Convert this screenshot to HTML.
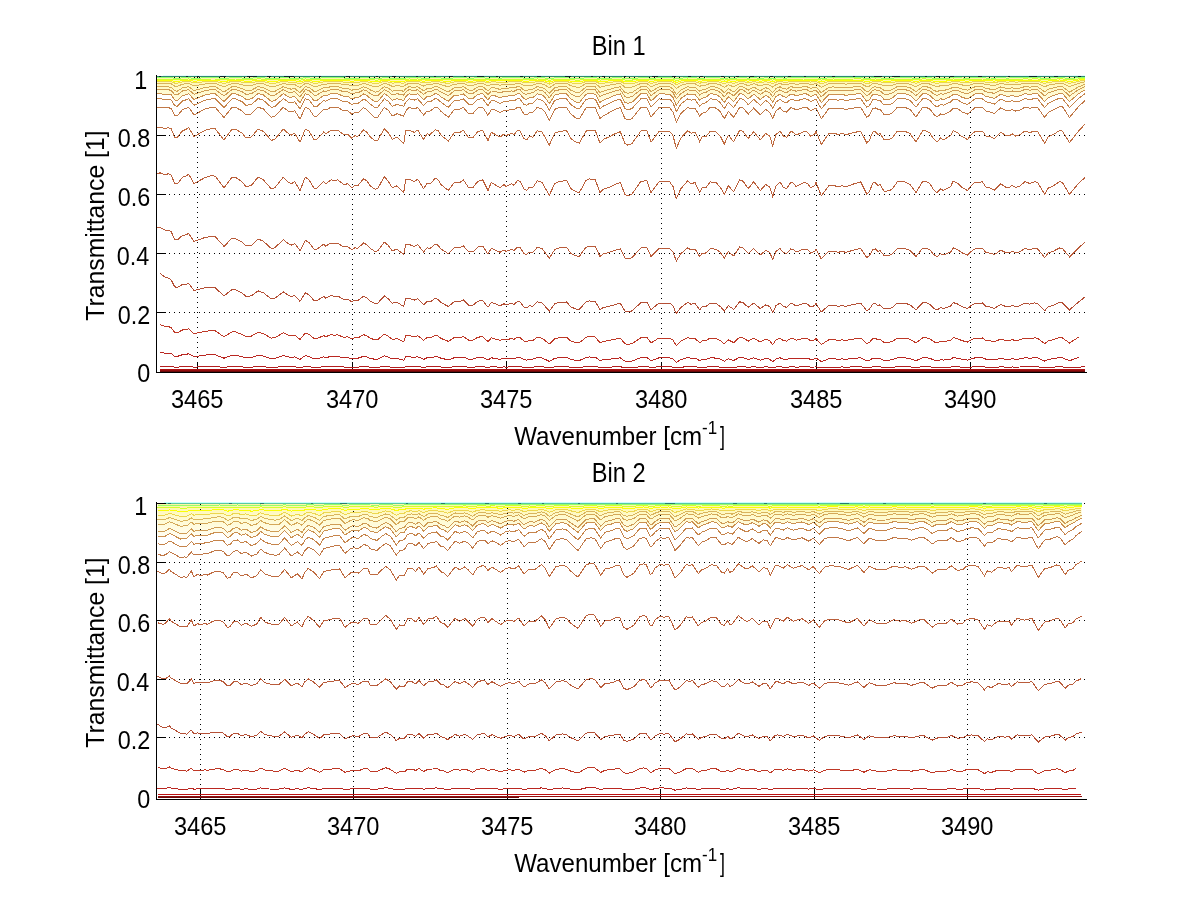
<!DOCTYPE html><html><head><meta charset="utf-8"><title>Bin 1 / Bin 2 Transmittance</title>
<style>html,body{margin:0;padding:0;background:#fff;width:1200px;height:901px;overflow:hidden}svg{display:block}</style></head><body>
<svg width="1200" height="901" viewBox="0 0 1200 901" font-family="'Liberation Sans', Arial, Helvetica, sans-serif" font-size="24" fill="#000">
<rect width="1200" height="901" fill="#fff"/>
<defs><linearGradient id="hg76" gradientUnits="userSpaceOnUse" x1="0" y1="76.6" x2="0" y2="108.6"><stop offset="0" stop-color="#fff5a0"/><stop offset="0.35" stop-color="#fffac8"/><stop offset="1" stop-color="#fffdf0"/></linearGradient></defs><polygon fill="url(#hg76)" stroke="none" points="157.3,76.6 160.0,76.6 164.7,76.6 168.7,76.6 171.3,76.6 174.7,76.6 177.3,76.6 182.7,76.6 185.3,76.6 188.7,76.6 194.0,76.6 197.3,76.6 204.7,76.6 212.0,76.6 215.3,76.6 224.0,76.6 232.0,76.6 235.3,76.6 242.0,76.6 246.0,76.6 251.3,76.6 258.0,76.6 263.3,76.6 271.3,76.6 274.7,76.6 283.3,76.6 288.7,76.6 291.3,76.6 294.7,76.6 300.0,76.6 305.3,76.6 309.0,76.6 314.3,76.6 317.0,76.6 323.7,76.6 325.7,76.6 331.0,76.6 334.3,76.6 337.7,76.6 343.7,76.6 347.7,76.6 351.7,76.6 355.0,76.6 357.7,76.6 363.7,76.6 367.0,76.6 370.3,76.6 375.0,76.6 377.7,76.6 384.3,76.6 388.3,76.6 392.3,76.6 397.0,76.6 403.7,76.6 405.7,76.6 409.0,76.6 414.3,76.6 417.7,76.6 423.7,76.6 427.0,76.6 430.3,76.6 435.0,76.6 437.7,76.6 441.0,76.6 448.3,76.6 454.3,76.6 459.7,76.6 463.3,76.6 468.7,76.6 472.7,76.6 478.0,76.6 482.7,76.6 488.0,76.6 491.3,76.6 494.7,76.6 500.0,76.6 504.0,76.6 506.0,76.6 511.3,76.6 514.0,76.6 517.3,76.6 520.0,76.6 524.0,76.6 526.7,76.6 529.3,76.6 532.7,76.6 537.3,76.6 542.0,76.6 544.7,76.6 549.3,76.6 554.7,76.6 560.0,76.6 566.7,76.6 570.7,76.6 576.0,76.6 579.3,76.6 586.0,76.6 589.3,76.6 595.3,76.6 600.0,76.6 603.3,76.6 609.3,76.6 615.0,76.6 620.3,76.6 625.0,76.6 627.7,76.6 631.7,76.6 641.0,76.6 647.0,76.6 651.0,76.6 659.0,76.6 669.7,76.6 673.0,76.6 676.3,76.6 681.0,76.6 687.7,76.6 691.0,76.6 695.0,76.6 699.7,76.6 702.3,76.6 705.7,76.6 710.3,76.6 716.3,76.6 720.3,76.6 724.3,76.6 728.3,76.6 733.7,76.6 739.7,76.6 743.0,76.6 748.3,76.6 753.7,76.6 760.3,76.6 765.7,76.6 769.7,76.6 772.7,76.6 776.0,76.6 780.0,76.6 783.3,76.6 786.7,76.6 790.7,76.6 793.3,76.6 796.0,76.6 804.0,76.6 807.3,76.6 810.7,76.6 814.7,76.6 816.0,76.6 821.3,76.6 828.7,76.6 833.3,76.6 838.0,76.6 842.0,76.6 846.0,76.6 854.0,76.6 860.7,76.6 866.7,76.6 869.3,76.6 872.7,76.6 875.3,76.6 878.0,76.6 880.0,76.6 884.0,76.6 889.3,76.6 892.7,76.6 897.3,76.6 904.7,76.6 910.0,76.6 916.0,76.6 922.7,76.6 926.0,76.6 930.0,76.6 933.5,76.6 937.0,76.6 940.6,76.6 943.4,76.6 947.7,76.6 950.5,76.6 953.3,76.6 957.6,76.6 961.8,76.6 967.5,76.6 970.3,76.6 975.3,76.6 978.1,76.6 982.4,76.6 985.9,76.6 990.2,76.6 994.4,76.6 1000.8,76.6 1006.4,76.6 1009.3,76.6 1012.1,76.6 1015.7,76.6 1019.9,76.6 1024.9,76.6 1029.8,76.6 1034.8,76.6 1037.6,76.6 1044.7,76.6 1048.2,76.6 1053.2,76.6 1059.6,76.6 1062.4,76.6 1069.5,76.6 1078.7,76.6 1085.0,76.6 1085.0,89.8 1078.7,93.6 1069.5,101.6 1062.4,93.4 1059.6,93.3 1053.2,95.7 1048.2,97.6 1044.7,101.6 1037.6,93.8 1034.8,93.6 1029.8,94.4 1024.9,93.6 1019.9,95.8 1015.7,96.6 1012.1,95.3 1009.3,96.2 1006.4,96.3 1000.8,94.1 994.4,98.4 990.2,97.3 985.9,96.4 982.4,93.9 978.1,93.9 975.3,93.8 970.3,97.0 967.5,98.9 961.8,97.2 957.6,94.7 953.3,94.2 950.5,96.6 947.7,97.8 943.4,99.5 940.6,98.8 937.0,101.1 933.5,98.8 930.0,95.3 926.0,93.7 922.7,93.6 916.0,101.1 910.0,95.2 904.7,93.7 897.3,93.7 892.7,97.7 889.3,99.2 884.0,99.3 880.0,95.2 878.0,95.1 875.3,94.1 872.7,94.5 869.3,99.9 866.7,101.3 860.7,93.6 854.0,94.2 846.0,95.3 842.0,94.5 838.0,95.0 833.3,94.2 828.7,94.7 821.3,102.6 816.0,94.4 814.7,94.7 810.7,96.4 807.3,94.1 804.0,93.7 796.0,95.7 793.3,94.4 790.7,94.0 786.7,97.4 783.3,96.5 780.0,94.0 776.0,96.6 772.7,102.3 769.7,97.8 765.7,95.2 760.3,99.6 753.7,94.2 748.3,98.9 743.0,94.1 739.7,93.7 733.7,101.4 728.3,96.8 724.3,102.5 720.3,97.2 716.3,94.3 710.3,93.7 705.7,97.3 702.3,98.2 699.7,100.3 695.0,94.4 691.0,94.9 687.7,93.8 681.0,98.3 676.3,105.2 673.0,97.3 669.7,94.1 659.0,93.9 651.0,101.2 647.0,94.0 641.0,93.7 631.7,102.6 627.7,103.2 625.0,102.5 620.3,94.0 615.0,95.3 609.3,97.8 603.3,100.3 600.0,102.4 595.3,94.1 589.3,93.7 586.0,94.2 579.3,102.7 576.0,102.0 570.7,98.8 566.7,94.0 560.0,93.8 554.7,95.2 549.3,103.6 544.7,97.0 542.0,95.0 537.3,93.7 532.7,97.8 529.3,98.0 526.7,99.3 524.0,98.9 520.0,93.9 517.3,93.9 514.0,95.7 511.3,95.3 506.0,96.5 504.0,96.0 500.0,97.8 494.7,95.7 491.3,95.4 488.0,99.9 482.7,93.7 478.0,94.2 472.7,98.6 468.7,98.6 463.3,93.8 459.7,95.0 454.3,95.2 448.3,101.4 441.0,96.8 437.7,94.1 435.0,93.7 430.3,96.6 427.0,96.6 423.7,99.8 417.7,93.8 414.3,94.9 409.0,93.8 405.7,96.8 403.7,100.4 397.0,98.7 392.3,100.4 388.3,96.0 384.3,93.7 377.7,101.4 375.0,101.7 370.3,98.5 367.0,95.6 363.7,93.9 357.7,98.0 355.0,97.8 351.7,99.0 347.7,96.3 343.7,96.5 337.7,93.7 334.3,93.9 331.0,93.7 325.7,95.8 323.7,95.3 317.0,100.4 314.3,100.8 309.0,94.8 305.3,93.7 300.0,102.8 294.7,96.4 291.3,97.3 288.7,96.9 283.3,93.6 274.7,100.7 271.3,101.4 263.3,94.9 258.0,93.6 251.3,98.9 246.0,99.5 242.0,96.4 235.3,93.7 232.0,93.7 224.0,101.5 215.3,93.9 212.0,93.7 204.7,95.1 197.3,98.3 194.0,99.4 188.7,93.8 185.3,94.9 182.7,95.3 177.3,100.4 174.7,100.0 171.3,94.9 168.7,94.0 164.7,94.3 160.0,93.7 157.3,93.9"/>
<g shape-rendering="crispEdges"><line x1="169" y1="77.5" x2="1087" y2="77.5" stroke="#000" stroke-width="1" stroke-dasharray="1 4"/>
<line x1="169" y1="135.5" x2="1087" y2="135.5" stroke="#000" stroke-width="1" stroke-dasharray="1 4"/>
<line x1="169" y1="194.5" x2="1087" y2="194.5" stroke="#000" stroke-width="1" stroke-dasharray="1 4"/>
<line x1="169" y1="253.5" x2="1087" y2="253.5" stroke="#000" stroke-width="1" stroke-dasharray="1 4"/>
<line x1="169" y1="312.5" x2="1087" y2="312.5" stroke="#000" stroke-width="1" stroke-dasharray="1 4"/>
<line x1="197.5" y1="77" x2="197.5" y2="372" stroke="#000" stroke-width="1" stroke-dasharray="1 4"/>
<line x1="352.5" y1="79" x2="352.5" y2="372" stroke="#000" stroke-width="1" stroke-dasharray="1 4"/>
<line x1="506.5" y1="81" x2="506.5" y2="372" stroke="#000" stroke-width="1" stroke-dasharray="1 4"/>
<line x1="661.5" y1="78" x2="661.5" y2="372" stroke="#000" stroke-width="1" stroke-dasharray="1 4"/>
<line x1="816.5" y1="80" x2="816.5" y2="372" stroke="#000" stroke-width="1" stroke-dasharray="1 4"/>
<line x1="970.5" y1="77" x2="970.5" y2="372" stroke="#000" stroke-width="1" stroke-dasharray="1 4"/></g>
<g shape-rendering="crispEdges"><line x1="156" y1="77.5" x2="166" y2="77.5" stroke="#000" stroke-width="1"/>
<line x1="156" y1="135.5" x2="166" y2="135.5" stroke="#000" stroke-width="1"/>
<line x1="156" y1="194.5" x2="166" y2="194.5" stroke="#000" stroke-width="1"/>
<line x1="156" y1="253.5" x2="166" y2="253.5" stroke="#000" stroke-width="1"/>
<line x1="156" y1="312.5" x2="166" y2="312.5" stroke="#000" stroke-width="1"/>
<line x1="197.5" y1="362" x2="197.5" y2="372.5" stroke="#000" stroke-width="1"/>
<line x1="352.5" y1="362" x2="352.5" y2="372.5" stroke="#000" stroke-width="1"/>
<line x1="506.5" y1="362" x2="506.5" y2="372.5" stroke="#000" stroke-width="1"/>
<line x1="661.5" y1="362" x2="661.5" y2="372.5" stroke="#000" stroke-width="1"/>
<line x1="816.5" y1="362" x2="816.5" y2="372.5" stroke="#000" stroke-width="1"/>
<line x1="970.5" y1="362" x2="970.5" y2="372.5" stroke="#000" stroke-width="1"/></g>
<g shape-rendering="crispEdges"><path fill="none" stroke="#4a86b8" stroke-width="1" d="M179.0 75.5H182.0M185.0 75.5H189.0M190.0 75.5H196.0M200.0 75.5H206.0M210.0 75.5H214.0M219.0 75.5H222.0M226.0 75.5H228.0"/>
<line x1="163.3" y1="75.6" x2="1085.0" y2="75.6" stroke="#e6fafa" stroke-width="1"/>
<polyline fill="none" stroke="#2e8a70" stroke-width="1" points="157.3,76.6 160.0,76.6 164.7,76.6 168.7,76.6 171.3,76.6 174.7,76.6 177.3,76.6 182.7,76.6 185.3,76.6 188.7,76.6 194.0,76.6 197.3,76.6 204.7,76.6 212.0,76.6 215.3,76.6 224.0,76.6 232.0,76.6 235.3,76.6 242.0,76.6 246.0,76.6 251.3,76.6 258.0,76.6 263.3,76.6 271.3,76.6 274.7,76.6 283.3,76.6 288.7,76.6 291.3,76.6 294.7,76.6 300.0,76.6 305.3,76.6 309.0,76.6 314.3,76.6 317.0,76.6 323.7,76.6 325.7,76.6 331.0,76.6 334.3,76.6 337.7,76.6 343.7,76.6 347.7,76.6 351.7,76.6 355.0,76.6 357.7,76.6 363.7,76.6 367.0,76.6 370.3,76.6 375.0,76.6 377.7,76.6 384.3,76.6 388.3,76.6 392.3,76.6 397.0,76.6 403.7,76.6 405.7,76.6 409.0,76.6 414.3,76.6 417.7,76.6 423.7,76.6 427.0,76.6 430.3,76.6 435.0,76.6 437.7,76.6 441.0,76.6 448.3,76.6 454.3,76.6 459.7,76.6 463.3,76.6 468.7,76.6 472.7,76.6 478.0,76.6 482.7,76.6 488.0,76.6 491.3,76.6 494.7,76.6 500.0,76.6 504.0,76.6 506.0,76.6 511.3,76.6 514.0,76.6 517.3,76.6 520.0,76.6 524.0,76.6 526.7,76.6 529.3,76.6 532.7,76.6 537.3,76.6 542.0,76.6 544.7,76.6 549.3,76.6 554.7,76.6 560.0,76.6 566.7,76.6 570.7,76.6 576.0,76.6 579.3,76.6 586.0,76.6 589.3,76.6 595.3,76.6 600.0,76.6 603.3,76.6 609.3,76.6 615.0,76.6 620.3,76.6 625.0,76.6 627.7,76.6 631.7,76.6 641.0,76.6 647.0,76.6 651.0,76.6 659.0,76.6 669.7,76.6 673.0,76.6 676.3,76.6 681.0,76.6 687.7,76.6 691.0,76.6 695.0,76.6 699.7,76.6 702.3,76.6 705.7,76.6 710.3,76.6 716.3,76.6 720.3,76.6 724.3,76.6 728.3,76.6 733.7,76.6 739.7,76.6 743.0,76.6 748.3,76.6 753.7,76.6 760.3,76.6 765.7,76.6 769.7,76.6 772.7,76.6 776.0,76.6 780.0,76.6 783.3,76.6 786.7,76.6 790.7,76.6 793.3,76.6 796.0,76.6 804.0,76.6 807.3,76.6 810.7,76.6 814.7,76.6 816.0,76.6 821.3,76.6 828.7,76.6 833.3,76.6 838.0,76.6 842.0,76.6 846.0,76.6 854.0,76.6 860.7,76.6 866.7,76.6 869.3,76.6 872.7,76.6 875.3,76.6 878.0,76.6 880.0,76.6 884.0,76.6 889.3,76.6 892.7,76.6 897.3,76.6 904.7,76.6 910.0,76.6 916.0,76.6 922.7,76.6 926.0,76.6 930.0,76.6 933.5,76.6 937.0,76.6 940.6,76.6 943.4,76.6 947.7,76.6 950.5,76.6 953.3,76.6 957.6,76.6 961.8,76.6 967.5,76.6 970.3,76.6 975.3,76.6 978.1,76.6 982.4,76.6 985.9,76.6 990.2,76.6 994.4,76.6 1000.8,76.6 1006.4,76.6 1009.3,76.6 1012.1,76.6 1015.7,76.6 1019.9,76.6 1024.9,76.6 1029.8,76.6 1034.8,76.6 1037.6,76.6 1044.7,76.6 1048.2,76.6 1053.2,76.6 1059.6,76.6 1062.4,76.6 1069.5,76.6 1078.7,76.6 1085.0,76.6"/>
<path fill="none" stroke="#0c2430" stroke-width="1" d="M159.3 76.6H161.3M186.3 76.6H188.3M197.3 76.6H199.3M220.3 76.6H226.3M247.3 76.6H257.3M267.3 76.6H271.3M284.3 76.6H294.3M319.3 76.6H321.3M346.3 76.6H350.3M376.3 76.6H378.3M392.3 76.6H396.3M416.3 76.6H418.3M434.3 76.6H436.3M449.3 76.6H453.3M464.3 76.6H466.3M477.3 76.6H484.3M496.3 76.6H498.3M520.3 76.6H523.3M537.3 76.6H541.3M565.3 76.6H571.3M591.3 76.6H593.3M602.3 76.6H605.3M624.3 76.6H626.3M652.3 76.6H658.3M672.3 76.6H676.3M688.3 76.6H691.3M700.3 76.6H703.3M721.3 76.6H724.3M736.3 76.6H739.3M750.3 76.6H754.3M770.3 76.6H773.3M788.3 76.6H791.3M804.3 76.6H806.3M832.3 76.6H835.3M853.3 76.6H855.3M874.3 76.6H882.3M892.3 76.6H900.3M925.3 76.6H927.3M936.3 76.6H940.3M950.3 76.6H954.3M978.3 76.6H982.3M1008.3 76.6H1010.3M1029.3 76.6H1037.3M1054.3 76.6H1058.3M1078.3 76.6H1081.3"/>
<polyline fill="none" stroke="#94ff6b" stroke-width="1" points="157.3,77.8 160.0,77.8 164.7,77.8 168.7,77.8 171.3,77.9 174.7,78.2 177.3,78.2 182.7,77.9 185.3,77.9 188.7,77.8 194.0,78.2 197.3,78.1 204.7,77.9 212.0,77.8 215.3,77.8 224.0,78.3 232.0,77.8 235.3,77.8 242.0,78.0 246.0,78.2 251.3,78.1 258.0,77.8 263.3,77.9 271.3,78.3 274.7,78.3 283.3,77.8 288.7,78.0 291.3,78.0 294.7,78.0 300.0,78.4 305.3,77.8 309.0,77.9 314.3,78.3 317.0,78.2 323.7,77.9 325.7,77.9 331.0,77.8 334.3,77.8 337.7,77.8 343.7,78.0 347.7,78.0 351.7,78.2 355.0,78.1 357.7,78.1 363.7,77.8 367.0,77.9 370.3,78.1 375.0,78.3 377.7,78.3 384.3,77.8 388.3,77.9 392.3,78.3 397.0,78.1 403.7,78.3 405.7,78.0 409.0,77.8 414.3,77.9 417.7,77.8 423.7,78.2 427.0,78.0 430.3,78.0 435.0,77.8 437.7,77.8 441.0,78.0 448.3,78.3 454.3,77.9 459.7,77.9 463.3,77.8 468.7,78.1 472.7,78.1 478.0,77.8 482.7,77.8 488.0,78.2 491.3,77.9 494.7,77.9 500.0,78.1 504.0,77.9 506.0,78.0 511.3,77.9 514.0,77.9 517.3,77.8 520.0,77.8 524.0,78.1 526.7,78.2 529.3,78.1 532.7,78.1 537.3,77.8 542.0,77.9 544.7,78.0 549.3,78.5 554.7,77.9 560.0,77.8 566.7,77.8 570.7,78.1 576.0,78.4 579.3,78.4 586.0,77.8 589.3,77.8 595.3,77.8 600.0,78.4 603.3,78.2 609.3,78.1 615.0,77.9 620.3,77.8 625.0,78.4 627.7,78.4 631.7,78.4 641.0,77.8 647.0,77.8 651.0,78.3 659.0,77.8 669.7,77.8 673.0,78.0 676.3,78.6 681.0,78.1 687.7,77.8 691.0,77.9 695.0,77.8 699.7,78.2 702.3,78.1 705.7,78.0 710.3,77.8 716.3,77.8 720.3,78.0 724.3,78.4 728.3,78.0 733.7,78.3 739.7,77.8 743.0,77.8 748.3,78.1 753.7,77.8 760.3,78.2 765.7,77.9 769.7,78.1 772.7,78.4 776.0,78.0 780.0,77.8 783.3,78.0 786.7,78.0 790.7,77.8 793.3,77.8 796.0,77.9 804.0,77.8 807.3,77.8 810.7,78.0 814.7,77.8 816.0,77.8 821.3,78.4 828.7,77.9 833.3,77.8 838.0,77.9 842.0,77.8 846.0,77.9 854.0,77.8 860.7,77.8 866.7,78.3 869.3,78.2 872.7,77.8 875.3,77.8 878.0,77.9 880.0,77.9 884.0,78.2 889.3,78.2 892.7,78.1 897.3,77.8 904.7,77.8 910.0,77.9 916.0,78.3 922.7,77.8 926.0,77.8 930.0,77.9 933.5,78.1 937.0,78.3 940.6,78.1 943.4,78.2 947.7,78.1 950.5,78.0 953.3,77.8 957.6,77.8 961.8,78.0 967.5,78.1 970.3,78.0 975.3,77.8 978.1,77.8 982.4,77.8 985.9,78.0 990.2,78.0 994.4,78.1 1000.8,77.8 1006.4,78.0 1009.3,78.0 1012.1,77.9 1015.7,78.0 1019.9,77.9 1024.9,77.8 1029.8,77.8 1034.8,77.8 1037.6,77.8 1044.7,78.3 1048.2,78.1 1053.2,77.9 1059.6,77.7 1062.4,77.8 1069.5,78.3 1078.7,77.8 1085.0,77.5"/>
<polyline fill="none" stroke="#d1ff2e" stroke-width="1" points="157.3,79.0 160.0,79.0 164.7,79.0 168.7,79.0 171.3,79.1 174.7,79.8 177.3,79.8 182.7,79.2 185.3,79.1 188.7,79.0 194.0,79.7 197.3,79.6 204.7,79.1 212.0,79.0 215.3,79.0 224.0,80.0 232.0,79.0 235.3,79.0 242.0,79.3 246.0,79.7 251.3,79.6 258.0,78.9 263.3,79.1 271.3,80.0 274.7,79.9 283.3,79.0 288.7,79.4 291.3,79.4 294.7,79.3 300.0,80.2 305.3,79.0 309.0,79.1 314.3,79.9 317.0,79.9 323.7,79.2 325.7,79.2 331.0,79.0 334.3,79.0 337.7,79.0 343.7,79.3 347.7,79.3 351.7,79.7 355.0,79.5 357.7,79.5 363.7,79.0 367.0,79.2 370.3,79.6 375.0,80.0 377.7,80.0 384.3,79.0 388.3,79.3 392.3,79.9 397.0,79.6 403.7,79.9 405.7,79.4 409.0,79.0 414.3,79.1 417.7,79.0 423.7,79.8 427.0,79.3 430.3,79.3 435.0,79.0 437.7,79.0 441.0,79.4 448.3,80.0 454.3,79.2 459.7,79.1 463.3,79.0 468.7,79.6 472.7,79.6 478.0,79.0 482.7,79.0 488.0,79.8 491.3,79.2 494.7,79.2 500.0,79.5 504.0,79.3 506.0,79.3 511.3,79.2 514.0,79.2 517.3,79.0 520.0,79.0 524.0,79.7 526.7,79.7 529.3,79.5 532.7,79.5 537.3,79.0 542.0,79.1 544.7,79.4 549.3,80.3 554.7,79.2 560.0,79.0 566.7,79.0 570.7,79.6 576.0,80.1 579.3,80.2 586.0,79.0 589.3,79.0 595.3,79.0 600.0,80.1 603.3,79.8 609.3,79.5 615.0,79.2 620.3,79.0 625.0,80.1 627.7,80.2 631.7,80.1 641.0,79.0 647.0,79.0 651.0,80.0 659.0,79.0 669.7,79.0 673.0,79.4 676.3,80.5 681.0,79.6 687.7,79.0 691.0,79.1 695.0,79.1 699.7,79.8 702.3,79.6 705.7,79.4 710.3,79.0 716.3,79.0 720.3,79.4 724.3,80.1 728.3,79.4 733.7,80.0 739.7,79.0 743.0,79.0 748.3,79.7 753.7,79.0 760.3,79.7 765.7,79.2 769.7,79.5 772.7,80.1 776.0,79.3 780.0,79.0 783.3,79.3 786.7,79.5 790.7,79.0 793.3,79.0 796.0,79.2 804.0,79.0 807.3,79.0 810.7,79.3 814.7,79.1 816.0,79.0 821.3,80.1 828.7,79.1 833.3,79.0 838.0,79.1 842.0,79.1 846.0,79.2 854.0,79.0 860.7,78.9 866.7,80.0 869.3,79.8 872.7,79.1 875.3,79.0 878.0,79.1 880.0,79.2 884.0,79.7 889.3,79.7 892.7,79.5 897.3,79.0 904.7,79.0 910.0,79.2 916.0,80.0 922.7,78.9 926.0,79.0 930.0,79.2 933.5,79.6 937.0,79.9 940.6,79.6 943.4,79.7 947.7,79.5 950.5,79.3 953.3,79.0 957.6,79.1 961.8,79.4 967.5,79.6 970.3,79.4 975.3,79.0 978.1,79.0 982.4,79.0 985.9,79.3 990.2,79.4 994.4,79.6 1000.8,79.0 1006.4,79.3 1009.3,79.3 1012.1,79.2 1015.7,79.3 1019.9,79.2 1024.9,78.9 1029.8,79.1 1034.8,78.9 1037.6,79.0 1044.7,80.0 1048.2,79.5 1053.2,79.2 1059.6,78.9 1062.4,78.9 1069.5,80.0 1078.7,78.9 1085.0,78.4"/>
<polyline fill="none" stroke="#faff05" stroke-width="1" points="157.3,80.2 160.0,80.1 164.7,80.3 168.7,80.2 171.3,80.4 174.7,81.4 177.3,81.4 182.7,80.5 185.3,80.4 188.7,80.2 194.0,81.3 197.3,81.0 204.7,80.4 212.0,80.1 215.3,80.2 224.0,81.7 232.0,80.1 235.3,80.1 242.0,80.7 246.0,81.3 251.3,81.2 258.0,80.1 263.3,80.4 271.3,81.6 274.7,81.5 283.3,80.1 288.7,80.8 291.3,80.8 294.7,80.7 300.0,81.9 305.3,80.1 309.0,80.3 314.3,81.5 317.0,81.5 323.7,80.4 325.7,80.5 331.0,80.1 334.3,80.2 337.7,80.1 343.7,80.7 347.7,80.7 351.7,81.2 355.0,80.9 357.7,81.0 363.7,80.2 367.0,80.5 370.3,81.1 375.0,81.7 377.7,81.7 384.3,80.1 388.3,80.6 392.3,81.5 397.0,81.1 403.7,81.5 405.7,80.7 409.0,80.2 414.3,80.4 417.7,80.2 423.7,81.3 427.0,80.7 430.3,80.7 435.0,80.1 437.7,80.2 441.0,80.7 448.3,81.6 454.3,80.4 459.7,80.4 463.3,80.2 468.7,81.1 472.7,81.1 478.0,80.2 482.7,80.1 488.0,81.4 491.3,80.5 494.7,80.5 500.0,80.9 504.0,80.6 506.0,80.7 511.3,80.5 514.0,80.5 517.3,80.2 520.0,80.2 524.0,81.2 526.7,81.2 529.3,81.0 532.7,80.9 537.3,80.1 542.0,80.4 544.7,80.8 549.3,82.1 554.7,80.4 560.0,80.2 566.7,80.2 570.7,81.1 576.0,81.8 579.3,81.9 586.0,80.2 589.3,80.1 595.3,80.2 600.0,81.9 603.3,81.4 609.3,80.9 615.0,80.4 620.3,80.2 625.0,81.9 627.7,82.0 631.7,81.9 641.0,80.1 647.0,80.2 651.0,81.6 659.0,80.2 669.7,80.2 673.0,80.8 676.3,82.4 681.0,81.0 687.7,80.2 691.0,80.4 695.0,80.3 699.7,81.4 702.3,81.0 705.7,80.9 710.3,80.1 716.3,80.3 720.3,80.8 724.3,81.9 728.3,80.8 733.7,81.7 739.7,80.1 743.0,80.2 748.3,81.2 753.7,80.2 760.3,81.3 765.7,80.4 769.7,80.9 772.7,81.8 776.0,80.7 780.0,80.2 783.3,80.7 786.7,80.9 790.7,80.2 793.3,80.3 796.0,80.5 804.0,80.1 807.3,80.2 810.7,80.7 814.7,80.3 816.0,80.3 821.3,81.9 828.7,80.3 833.3,80.2 838.0,80.4 842.0,80.3 846.0,80.5 854.0,80.2 860.7,80.1 866.7,81.6 869.3,81.3 872.7,80.3 875.3,80.2 878.0,80.4 880.0,80.4 884.0,81.2 889.3,81.2 892.7,80.9 897.3,80.1 904.7,80.1 910.0,80.4 916.0,81.6 922.7,80.1 926.0,80.1 930.0,80.4 933.5,81.1 937.0,81.6 940.6,81.1 943.4,81.3 947.7,80.9 950.5,80.7 953.3,80.2 957.6,80.3 961.8,80.8 967.5,81.2 970.3,80.8 975.3,80.2 978.1,80.2 982.4,80.2 985.9,80.7 990.2,80.8 994.4,81.1 1000.8,80.2 1006.4,80.7 1009.3,80.6 1012.1,80.5 1015.7,80.7 1019.9,80.5 1024.9,80.1 1029.8,80.3 1034.8,80.1 1037.6,80.2 1044.7,81.7 1048.2,80.9 1053.2,80.5 1059.6,80.0 1062.4,80.1 1069.5,81.6 1078.7,80.1 1085.0,79.3"/>
<polyline fill="none" stroke="#ecd64e" stroke-width="1" points="157.3,81.4 160.0,81.3 164.7,81.5 168.7,81.4 171.3,81.7 174.7,83.1 177.3,83.2 182.7,81.8 185.3,81.7 188.7,81.3 194.0,82.9 197.3,82.6 204.7,81.7 212.0,81.3 215.3,81.4 224.0,83.5 232.0,81.3 235.3,81.3 242.0,82.1 246.0,83.0 251.3,82.8 258.0,81.3 263.3,81.7 271.3,83.5 274.7,83.3 283.3,81.3 288.7,82.2 291.3,82.3 294.7,82.1 300.0,83.9 305.3,81.3 309.0,81.6 314.3,83.3 317.0,83.2 323.7,81.8 325.7,81.9 331.0,81.3 334.3,81.4 337.7,81.3 343.7,82.1 347.7,82.1 351.7,82.8 355.0,82.5 357.7,82.5 363.7,81.4 367.0,81.8 370.3,82.7 375.0,83.6 377.7,83.5 384.3,81.3 388.3,82.0 392.3,83.2 397.0,82.7 403.7,83.2 405.7,82.2 409.0,81.3 414.3,81.7 417.7,81.4 423.7,83.0 427.0,82.1 430.3,82.1 435.0,81.3 437.7,81.4 441.0,82.2 448.3,83.5 454.3,81.8 459.7,81.7 463.3,81.3 468.7,82.7 472.7,82.7 478.0,81.5 482.7,81.3 488.0,83.1 491.3,81.8 494.7,81.9 500.0,82.5 504.0,82.0 506.0,82.1 511.3,81.8 514.0,81.9 517.3,81.4 520.0,81.4 524.0,82.8 526.7,82.9 529.3,82.5 532.7,82.5 537.3,81.3 542.0,81.7 544.7,82.2 549.3,84.1 554.7,81.7 560.0,81.3 566.7,81.4 570.7,82.8 576.0,83.7 579.3,83.9 586.0,81.5 589.3,81.3 595.3,81.4 600.0,83.8 603.3,83.2 609.3,82.5 615.0,81.8 620.3,81.4 625.0,83.8 627.7,84.0 631.7,83.8 641.0,81.3 647.0,81.4 651.0,83.4 659.0,81.4 669.7,81.4 673.0,82.3 676.3,84.6 681.0,82.6 687.7,81.3 691.0,81.7 695.0,81.5 699.7,83.2 702.3,82.6 705.7,82.4 710.3,81.3 716.3,81.5 720.3,82.3 724.3,83.8 728.3,82.2 733.7,83.5 739.7,81.3 743.0,81.4 748.3,82.8 753.7,81.5 760.3,83.0 765.7,81.7 769.7,82.5 772.7,83.8 776.0,82.1 780.0,81.4 783.3,82.1 786.7,82.4 790.7,81.4 793.3,81.5 796.0,81.9 804.0,81.3 807.3,81.4 810.7,82.1 814.7,81.6 816.0,81.5 821.3,83.8 828.7,81.6 833.3,81.5 838.0,81.7 842.0,81.5 846.0,81.8 854.0,81.5 860.7,81.3 866.7,83.5 869.3,83.1 872.7,81.5 875.3,81.4 878.0,81.7 880.0,81.7 884.0,82.9 889.3,82.9 892.7,82.5 897.3,81.3 904.7,81.3 910.0,81.7 916.0,83.4 922.7,81.3 926.0,81.3 930.0,81.8 933.5,82.8 937.0,83.4 940.6,82.8 943.4,83.0 947.7,82.5 950.5,82.1 953.3,81.5 957.6,81.6 961.8,82.3 967.5,82.8 970.3,82.3 975.3,81.3 978.1,81.4 982.4,81.4 985.9,82.1 990.2,82.3 994.4,82.6 1000.8,81.4 1006.4,82.1 1009.3,82.0 1012.1,81.8 1015.7,82.1 1019.9,81.9 1024.9,81.3 1029.8,81.5 1034.8,81.3 1037.6,81.3 1044.7,83.5 1048.2,82.4 1053.2,81.9 1059.6,81.2 1062.4,81.2 1069.5,83.4 1078.7,81.3 1085.0,80.2"/>
<polyline fill="none" stroke="#d9b45e" stroke-width="1" points="157.3,83.5 160.0,83.4 164.7,83.6 168.7,83.5 171.3,83.9 174.7,86.2 177.3,86.4 182.7,84.1 185.3,83.9 188.7,83.4 194.0,85.9 197.3,85.4 204.7,84.0 212.0,83.4 215.3,83.5 224.0,86.9 232.0,83.4 235.3,83.4 242.0,84.6 246.0,86.0 251.3,85.7 258.0,83.4 263.3,83.9 271.3,86.8 274.7,86.5 283.3,83.4 288.7,84.8 291.3,85.0 294.7,84.6 300.0,87.4 305.3,83.4 309.0,83.9 314.3,86.5 317.0,86.4 323.7,84.1 325.7,84.3 331.0,83.4 334.3,83.5 337.7,83.4 343.7,84.6 347.7,84.6 351.7,85.7 355.0,85.2 357.7,85.3 363.7,83.5 367.0,84.2 370.3,85.5 375.0,86.9 377.7,86.8 384.3,83.4 388.3,84.4 392.3,86.4 397.0,85.6 403.7,86.4 405.7,84.7 409.0,83.4 414.3,83.9 417.7,83.4 423.7,86.1 427.0,84.7 430.3,84.7 435.0,83.4 437.7,83.6 441.0,84.7 448.3,86.8 454.3,84.1 459.7,83.9 463.3,83.4 468.7,85.6 472.7,85.6 478.0,83.6 482.7,83.4 488.0,86.1 491.3,84.1 494.7,84.3 500.0,85.2 504.0,84.4 506.0,84.6 511.3,84.1 514.0,84.3 517.3,83.5 520.0,83.5 524.0,85.7 526.7,85.9 529.3,85.3 532.7,85.2 537.3,83.4 542.0,84.0 544.7,84.8 549.3,87.8 554.7,84.1 560.0,83.4 566.7,83.5 570.7,85.6 576.0,87.1 579.3,87.4 586.0,83.6 589.3,83.4 595.3,83.5 600.0,87.3 603.3,86.3 609.3,85.2 615.0,84.1 620.3,83.5 625.0,87.3 627.7,87.6 631.7,87.3 641.0,83.4 647.0,83.5 651.0,86.7 659.0,83.5 669.7,83.6 673.0,85.0 676.3,88.5 681.0,85.4 687.7,83.4 691.0,83.9 695.0,83.7 699.7,86.3 702.3,85.4 705.7,85.0 710.3,83.4 716.3,83.7 720.3,84.9 724.3,87.3 728.3,84.8 733.7,86.8 739.7,83.4 743.0,83.6 748.3,85.7 753.7,83.6 760.3,86.0 765.7,84.0 769.7,85.2 772.7,87.2 776.0,84.7 780.0,83.5 783.3,84.6 786.7,85.0 790.7,83.5 793.3,83.7 796.0,84.3 804.0,83.4 807.3,83.6 810.7,84.6 814.7,83.8 816.0,83.7 821.3,87.3 828.7,83.8 833.3,83.6 838.0,84.0 842.0,83.7 846.0,84.1 854.0,83.6 860.7,83.4 866.7,86.7 869.3,86.1 872.7,83.7 875.3,83.6 878.0,84.0 880.0,84.0 884.0,85.9 889.3,85.8 892.7,85.2 897.3,83.4 904.7,83.4 910.0,84.1 916.0,86.7 922.7,83.3 926.0,83.4 930.0,84.1 933.5,85.7 937.0,86.7 940.6,85.7 943.4,85.9 947.7,85.2 950.5,84.7 953.3,83.6 957.6,83.8 961.8,84.9 967.5,85.7 970.3,84.9 975.3,83.4 978.1,83.5 982.4,83.5 985.9,84.6 990.2,85.0 994.4,85.5 1000.8,83.5 1006.4,84.5 1009.3,84.5 1012.1,84.1 1015.7,84.7 1019.9,84.3 1024.9,83.3 1029.8,83.7 1034.8,83.4 1037.6,83.4 1044.7,86.9 1048.2,85.1 1053.2,84.3 1059.6,83.2 1062.4,83.3 1069.5,86.7 1078.7,83.4 1085.0,81.8"/>
<polyline fill="none" stroke="#d4a859" stroke-width="1" points="157.3,86.8 160.0,86.6 164.7,87.0 168.7,86.9 171.3,87.4 174.7,90.9 177.3,91.2 182.7,87.7 185.3,87.5 188.7,86.7 194.0,90.5 197.3,89.8 204.7,87.6 212.0,86.6 215.3,86.7 224.0,92.0 232.0,86.7 235.3,86.6 242.0,88.5 246.0,90.6 251.3,90.2 258.0,86.6 263.3,87.5 271.3,91.9 274.7,91.4 283.3,86.6 288.7,88.8 291.3,89.1 294.7,88.4 300.0,92.8 305.3,86.7 309.0,87.3 314.3,91.5 317.0,91.2 323.7,87.7 325.7,88.0 331.0,86.6 334.3,86.8 337.7,86.6 343.7,88.5 347.7,88.4 351.7,90.2 355.0,89.4 357.7,89.5 363.7,86.8 367.0,87.9 370.3,89.9 375.0,92.1 377.7,91.9 384.3,86.6 388.3,88.2 392.3,91.2 397.0,90.1 403.7,91.2 405.7,88.7 409.0,86.7 414.3,87.5 417.7,86.7 423.7,90.8 427.0,88.6 430.3,88.6 435.0,86.6 437.7,86.9 441.0,88.7 448.3,91.9 454.3,87.7 459.7,87.5 463.3,86.7 468.7,90.0 472.7,90.0 478.0,87.0 482.7,86.6 488.0,90.9 491.3,87.8 494.7,88.0 500.0,89.4 504.0,88.2 506.0,88.5 511.3,87.7 514.0,88.0 517.3,86.7 520.0,86.8 524.0,90.2 526.7,90.5 529.3,89.5 532.7,89.4 537.3,86.6 542.0,87.5 544.7,88.8 549.3,93.4 554.7,87.7 560.0,86.7 566.7,86.8 570.7,90.1 576.0,92.3 579.3,92.7 586.0,87.0 589.3,86.6 595.3,86.9 600.0,92.6 603.3,91.1 609.3,89.4 615.0,87.7 620.3,86.8 625.0,92.6 627.7,93.1 631.7,92.7 641.0,86.6 647.0,86.8 651.0,91.7 659.0,86.8 669.7,86.9 673.0,89.1 676.3,94.5 681.0,89.8 687.7,86.7 691.0,87.4 695.0,87.1 699.7,91.2 702.3,89.7 705.7,89.1 710.3,86.7 716.3,87.1 720.3,89.0 724.3,92.6 728.3,88.8 733.7,91.9 739.7,86.6 743.0,86.9 748.3,90.2 753.7,87.0 760.3,90.7 765.7,87.6 769.7,89.4 772.7,92.5 776.0,88.6 780.0,86.8 783.3,88.5 786.7,89.1 790.7,86.8 793.3,87.1 796.0,88.0 804.0,86.6 807.3,86.9 810.7,88.5 814.7,87.3 816.0,87.1 821.3,92.7 828.7,87.3 833.3,86.9 838.0,87.5 842.0,87.2 846.0,87.7 854.0,86.9 860.7,86.6 866.7,91.8 869.3,90.8 872.7,87.2 875.3,86.9 878.0,87.6 880.0,87.6 884.0,90.4 889.3,90.4 892.7,89.4 897.3,86.6 904.7,86.6 910.0,87.7 916.0,91.7 922.7,86.6 926.0,86.6 930.0,87.7 933.5,90.1 937.0,91.7 940.6,90.1 943.4,90.6 947.7,89.4 950.5,88.6 953.3,87.0 957.6,87.3 961.8,89.0 967.5,90.2 970.3,88.9 975.3,86.7 978.1,86.8 982.4,86.7 985.9,88.5 990.2,89.1 994.4,89.8 1000.8,86.9 1006.4,88.4 1009.3,88.3 1012.1,87.7 1015.7,88.6 1019.9,88.0 1024.9,86.6 1029.8,87.1 1034.8,86.6 1037.6,86.7 1044.7,92.0 1048.2,89.3 1053.2,88.0 1059.6,86.4 1062.4,86.5 1069.5,92.1 1078.7,86.8 1085.0,84.3"/>
<polyline fill="none" stroke="#cf9c55" stroke-width="1" points="157.3,89.8 160.0,89.6 164.7,90.0 168.7,89.8 171.3,90.5 174.7,94.7 177.3,95.0 182.7,90.9 185.3,90.6 188.7,89.6 194.0,94.2 197.3,93.3 204.7,90.7 212.0,89.6 215.3,89.7 224.0,95.9 232.0,89.6 235.3,89.6 242.0,91.7 246.0,94.3 251.3,93.8 258.0,89.5 263.3,90.6 271.3,95.8 274.7,95.3 283.3,89.5 288.7,92.2 291.3,92.5 294.7,91.7 300.0,97.0 305.3,89.6 309.0,90.4 314.3,95.4 317.0,95.0 323.7,90.9 325.7,91.3 331.0,89.6 334.3,89.7 337.7,89.6 343.7,91.8 347.7,91.7 351.7,93.9 355.0,92.9 357.7,93.0 363.7,89.8 367.0,91.1 370.3,93.5 375.0,96.0 377.7,95.8 384.3,89.6 388.3,91.5 392.3,95.0 397.0,93.7 403.7,95.1 405.7,92.1 409.0,89.7 414.3,90.6 417.7,89.7 423.7,94.5 427.0,91.9 430.3,91.9 435.0,89.6 437.7,89.9 441.0,92.1 448.3,95.8 454.3,90.8 459.7,90.6 463.3,89.6 468.7,93.6 472.7,93.6 478.0,90.0 482.7,89.5 488.0,94.6 491.3,91.0 494.7,91.2 500.0,92.9 504.0,91.5 506.0,91.8 511.3,90.9 514.0,91.2 517.3,89.7 520.0,89.7 524.0,93.8 526.7,94.2 529.3,93.1 532.7,92.9 537.3,89.6 542.0,90.6 544.7,92.2 549.3,97.7 554.7,90.8 560.0,89.7 566.7,89.8 570.7,93.7 576.0,96.4 579.3,96.9 586.0,90.0 589.3,89.6 595.3,89.9 600.0,96.7 603.3,94.9 609.3,92.9 615.0,90.9 620.3,89.8 625.0,96.7 627.7,97.3 631.7,96.8 641.0,89.6 647.0,89.8 651.0,95.7 659.0,89.8 669.7,89.9 673.0,92.5 676.3,98.9 681.0,93.4 687.7,89.6 691.0,90.5 695.0,90.1 699.7,95.0 702.3,93.2 705.7,92.5 710.3,89.6 716.3,90.1 720.3,92.4 724.3,96.7 728.3,92.1 733.7,95.9 739.7,89.6 743.0,89.9 748.3,93.8 753.7,90.0 760.3,94.4 765.7,90.8 769.7,92.9 772.7,96.6 776.0,91.9 780.0,89.8 783.3,91.9 786.7,92.6 790.7,89.8 793.3,90.1 796.0,91.2 804.0,89.6 807.3,89.9 810.7,91.8 814.7,90.4 816.0,90.1 821.3,96.8 828.7,90.4 833.3,90.0 838.0,90.6 842.0,90.2 846.0,90.9 854.0,90.0 860.7,89.5 866.7,95.7 869.3,94.6 872.7,90.2 875.3,89.9 878.0,90.7 880.0,90.8 884.0,94.1 889.3,94.0 892.7,92.9 897.3,89.6 904.7,89.6 910.0,90.8 916.0,95.6 922.7,89.5 926.0,89.6 930.0,90.8 933.5,93.7 937.0,95.6 940.6,93.8 943.4,94.3 947.7,92.9 950.5,91.9 953.3,90.0 957.6,90.4 961.8,92.4 967.5,93.8 970.3,92.3 975.3,89.6 978.1,89.7 982.4,89.7 985.9,91.8 990.2,92.5 994.4,93.4 1000.8,89.9 1006.4,91.7 1009.3,91.6 1012.1,90.9 1015.7,91.9 1019.9,91.3 1024.9,89.5 1029.8,90.1 1034.8,89.5 1037.6,89.7 1044.7,96.0 1048.2,92.8 1053.2,91.2 1059.6,89.2 1062.4,89.3 1069.5,96.0 1078.7,89.6 1085.0,86.6"/>
<polyline fill="none" stroke="#cb9050" stroke-width="1" points="157.3,93.9 160.0,93.7 164.7,94.3 168.7,94.0 171.3,94.9 174.7,100.0 177.3,100.4 182.7,95.3 185.3,94.9 188.7,93.8 194.0,99.4 197.3,98.3 204.7,95.1 212.0,93.7 215.3,93.9 224.0,101.5 232.0,93.7 235.3,93.7 242.0,96.4 246.0,99.5 251.3,98.9 258.0,93.6 263.3,94.9 271.3,101.4 274.7,100.7 283.3,93.6 288.7,96.9 291.3,97.3 294.7,96.4 300.0,102.8 305.3,93.7 309.0,94.8 314.3,100.8 317.0,100.4 323.7,95.3 325.7,95.8 331.0,93.7 334.3,93.9 337.7,93.7 343.7,96.5 347.7,96.3 351.7,99.0 355.0,97.8 357.7,98.0 363.7,93.9 367.0,95.6 370.3,98.5 375.0,101.7 377.7,101.4 384.3,93.7 388.3,96.0 392.3,100.4 397.0,98.7 403.7,100.4 405.7,96.8 409.0,93.8 414.3,94.9 417.7,93.8 423.7,99.8 427.0,96.6 430.3,96.6 435.0,93.7 437.7,94.1 441.0,96.8 448.3,101.4 454.3,95.2 459.7,95.0 463.3,93.8 468.7,98.6 472.7,98.6 478.0,94.2 482.7,93.7 488.0,99.9 491.3,95.4 494.7,95.7 500.0,97.8 504.0,96.0 506.0,96.5 511.3,95.3 514.0,95.7 517.3,93.9 520.0,93.9 524.0,98.9 526.7,99.3 529.3,98.0 532.7,97.8 537.3,93.7 542.0,95.0 544.7,97.0 549.3,103.6 554.7,95.2 560.0,93.8 566.7,94.0 570.7,98.8 576.0,102.0 579.3,102.7 586.0,94.2 589.3,93.7 595.3,94.1 600.0,102.4 603.3,100.3 609.3,97.8 615.0,95.3 620.3,94.0 625.0,102.5 627.7,103.2 631.7,102.6 641.0,93.7 647.0,94.0 651.0,101.2 659.0,93.9 669.7,94.1 673.0,97.3 676.3,105.2 681.0,98.3 687.7,93.8 691.0,94.9 695.0,94.4 699.7,100.3 702.3,98.2 705.7,97.3 710.3,93.7 716.3,94.3 720.3,97.2 724.3,102.5 728.3,96.8 733.7,101.4 739.7,93.7 743.0,94.1 748.3,98.9 753.7,94.2 760.3,99.6 765.7,95.2 769.7,97.8 772.7,102.3 776.0,96.6 780.0,94.0 783.3,96.5 786.7,97.4 790.7,94.0 793.3,94.4 796.0,95.7 804.0,93.7 807.3,94.1 810.7,96.4 814.7,94.7 816.0,94.4 821.3,102.6 828.7,94.7 833.3,94.2 838.0,95.0 842.0,94.5 846.0,95.3 854.0,94.2 860.7,93.6 866.7,101.3 869.3,99.9 872.7,94.5 875.3,94.1 878.0,95.1 880.0,95.2 884.0,99.3 889.3,99.2 892.7,97.7 897.3,93.7 904.7,93.7 910.0,95.2 916.0,101.1 922.7,93.6 926.0,93.7 930.0,95.3 933.5,98.8 937.0,101.1 940.6,98.8 943.4,99.5 947.7,97.8 950.5,96.6 953.3,94.2 957.6,94.7 961.8,97.2 967.5,98.9 970.3,97.0 975.3,93.8 978.1,93.9 982.4,93.9 985.9,96.4 990.2,97.3 994.4,98.4 1000.8,94.1 1006.4,96.3 1009.3,96.2 1012.1,95.3 1015.7,96.6 1019.9,95.8 1024.9,93.6 1029.8,94.4 1034.8,93.6 1037.6,93.8 1044.7,101.6 1048.2,97.6 1053.2,95.7 1059.6,93.3 1062.4,93.4 1069.5,101.6 1078.7,93.6 1085.0,89.8"/>
<polyline fill="none" stroke="#c6844b" stroke-width="1" points="157.3,99.0 160.0,98.7 164.7,99.4 168.7,99.1 171.3,100.0 174.7,105.8 177.3,106.3 182.7,100.6 185.3,100.1 188.7,98.8 194.0,105.2 197.3,104.0 204.7,100.3 212.0,98.7 215.3,98.9 224.0,107.6 232.0,98.8 235.3,98.7 242.0,101.7 246.0,105.3 251.3,104.6 258.0,98.6 263.3,100.1 271.3,107.4 274.7,106.7 283.3,98.6 288.7,102.3 291.3,102.8 294.7,101.7 300.0,109.0 305.3,98.8 309.0,99.9 314.3,106.8 317.0,106.3 323.7,100.5 325.7,101.1 331.0,98.7 334.3,98.9 337.7,98.7 343.7,101.9 347.7,101.7 351.7,104.7 355.0,103.3 357.7,103.5 363.7,99.0 367.0,100.8 370.3,104.1 375.0,107.7 377.7,107.4 384.3,98.7 388.3,101.4 392.3,106.3 397.0,104.4 403.7,106.3 405.7,102.2 409.0,98.8 414.3,100.1 417.7,98.9 423.7,105.6 427.0,102.0 430.3,101.9 435.0,98.7 437.7,99.2 441.0,102.2 448.3,107.4 454.3,100.5 459.7,100.2 463.3,98.8 468.7,104.3 472.7,104.3 478.0,99.3 482.7,98.7 488.0,105.7 491.3,100.6 494.7,101.0 500.0,103.4 504.0,101.3 506.0,101.8 511.3,100.5 514.0,100.9 517.3,98.9 520.0,99.0 524.0,104.6 526.7,105.1 529.3,103.6 532.7,103.3 537.3,98.7 542.0,100.2 544.7,102.4 549.3,110.0 554.7,100.4 560.0,98.8 566.7,99.0 570.7,104.4 576.0,108.1 579.3,108.9 586.0,99.3 589.3,98.7 595.3,99.1 600.0,108.6 603.3,106.1 609.3,103.3 615.0,100.5 620.3,99.1 625.0,108.6 627.7,109.5 631.7,108.8 641.0,98.7 647.0,99.0 651.0,107.2 659.0,99.0 669.7,99.2 673.0,102.8 676.3,111.7 681.0,104.0 687.7,98.8 691.0,100.1 695.0,99.5 699.7,106.2 702.3,103.8 705.7,102.8 710.3,98.8 716.3,99.4 720.3,102.6 724.3,108.6 728.3,102.3 733.7,107.4 739.7,98.7 743.0,99.2 748.3,104.6 753.7,99.3 760.3,105.4 765.7,100.4 769.7,103.3 772.7,108.5 776.0,102.0 780.0,99.1 783.3,101.9 786.7,102.9 790.7,99.1 793.3,99.5 796.0,101.0 804.0,98.7 807.3,99.2 810.7,101.7 814.7,99.8 816.0,99.5 821.3,108.8 828.7,99.9 833.3,99.2 838.0,100.2 842.0,99.6 846.0,100.5 854.0,99.2 860.7,98.6 866.7,107.3 869.3,105.7 872.7,99.6 875.3,99.2 878.0,100.3 880.0,100.4 884.0,105.0 889.3,104.9 892.7,103.3 897.3,98.7 904.7,98.7 910.0,100.4 916.0,107.1 922.7,98.6 926.0,98.7 930.0,100.5 933.5,104.5 937.0,107.1 940.6,104.5 943.4,105.2 947.7,103.3 950.5,102.0 953.3,99.3 957.6,99.8 961.8,102.6 967.5,104.6 970.3,102.5 975.3,98.8 978.1,98.9 982.4,98.9 985.9,101.8 990.2,102.7 994.4,104.0 1000.8,99.1 1006.4,101.7 1009.3,101.5 1012.1,100.6 1015.7,102.0 1019.9,101.1 1024.9,98.6 1029.8,99.5 1034.8,98.6 1037.6,98.8 1044.7,107.7 1048.2,103.2 1053.2,101.0 1059.6,98.1 1062.4,98.3 1069.5,107.5 1078.7,98.4 1085.0,93.7"/>
<polyline fill="none" stroke="#c17847" stroke-width="1" points="157.3,107.6 160.0,107.3 164.7,108.0 168.7,107.7 171.3,108.8 174.7,115.5 177.3,115.9 182.7,109.4 185.3,108.8 188.7,107.4 194.0,114.7 197.3,113.3 204.7,109.0 212.0,107.2 215.3,107.5 224.0,117.5 232.0,107.3 235.3,107.3 242.0,110.8 246.0,114.8 251.3,114.0 258.0,107.2 263.3,108.9 271.3,117.3 274.7,116.4 283.3,107.2 288.7,111.4 291.3,112.0 294.7,110.7 300.0,119.1 305.3,107.3 309.0,108.7 314.3,116.6 317.0,116.0 323.7,109.4 325.7,110.0 331.0,107.3 334.3,107.6 337.7,107.3 343.7,110.9 347.7,110.7 351.7,114.2 355.0,112.6 357.7,112.9 363.7,107.6 367.0,109.7 370.3,113.5 375.0,117.6 377.7,117.3 384.3,107.3 388.3,110.3 392.3,116.0 397.0,113.8 403.7,116.1 405.7,111.2 409.0,107.4 414.3,108.9 417.7,107.5 423.7,115.2 427.0,111.1 430.3,111.0 435.0,107.3 437.7,107.8 441.0,111.3 448.3,117.3 454.3,109.3 459.7,109.0 463.3,107.4 468.7,113.7 472.7,113.7 478.0,108.0 482.7,107.2 488.0,115.4 491.3,109.5 494.7,110.0 500.0,112.7 504.0,110.3 506.0,110.9 511.3,109.4 514.0,109.9 517.3,107.5 520.0,107.6 524.0,114.1 526.7,114.7 529.3,112.9 532.7,112.6 537.3,107.3 542.0,109.0 544.7,111.6 549.3,120.2 554.7,109.3 560.0,107.4 566.7,107.7 570.7,113.9 576.0,118.1 579.3,118.9 586.0,108.0 589.3,107.3 595.3,107.7 600.0,118.6 603.3,115.8 609.3,112.6 615.0,109.4 620.3,107.7 625.0,118.7 627.7,119.7 631.7,118.9 641.0,107.3 647.0,107.6 651.0,117.0 659.0,107.6 669.7,107.8 673.0,112.0 676.3,122.2 681.0,113.4 687.7,107.4 691.0,108.9 695.0,108.2 699.7,116.0 702.3,113.2 705.7,112.1 710.3,107.4 716.3,108.1 720.3,111.8 724.3,118.7 728.3,111.4 733.7,117.3 739.7,107.3 743.0,107.9 748.3,114.1 753.7,108.0 760.3,115.0 765.7,109.3 769.7,112.6 772.7,118.6 776.0,111.0 780.0,107.7 783.3,111.0 786.7,112.1 790.7,107.7 793.3,108.2 796.0,109.9 804.0,107.3 807.3,107.9 810.7,110.8 814.7,108.6 816.0,108.2 821.3,118.9 828.7,108.7 833.3,108.0 838.0,109.0 842.0,108.4 846.0,109.4 854.0,108.0 860.7,107.2 866.7,117.2 869.3,115.4 872.7,108.3 875.3,107.9 878.0,109.2 880.0,109.2 884.0,114.6 889.3,114.5 892.7,112.6 897.3,107.3 904.7,107.3 910.0,109.3 916.0,117.0 922.7,107.2 926.0,107.3 930.0,109.3 933.5,114.0 937.0,117.0 940.6,114.0 943.4,114.8 947.7,112.7 950.5,111.1 953.3,108.0 957.6,108.6 961.8,111.8 967.5,114.1 970.3,111.6 975.3,107.4 978.1,107.6 982.4,107.5 985.9,110.9 990.2,112.0 994.4,113.4 1000.8,107.8 1006.4,110.8 1009.3,110.6 1012.1,109.4 1015.7,111.1 1019.9,110.0 1024.9,107.2 1029.8,108.2 1034.8,107.2 1037.6,107.4 1044.7,117.6 1048.2,112.4 1053.2,109.9 1059.6,106.5 1062.4,106.7 1069.5,117.4 1078.7,106.4 1085.0,100.5"/>
<polyline fill="none" stroke="#bf6b40" stroke-width="1" points="157.3,127.8 160.0,127.1 164.7,128.4 168.7,127.8 171.3,128.9 174.7,137.3 177.3,137.3 182.7,130.5 185.3,129.8 188.7,127.7 194.0,136.6 197.3,134.7 204.7,130.5 212.0,128.4 215.3,128.9 224.0,140.0 232.0,129.2 235.3,129.1 242.0,133.1 246.0,137.9 251.3,136.9 258.0,129.1 263.3,131.3 271.3,140.4 274.7,139.3 283.3,129.1 288.7,133.8 291.3,135.1 294.7,133.2 300.0,142.2 305.3,129.1 309.0,131.2 314.3,140.0 317.0,139.2 323.7,132.0 325.7,134.0 331.0,130.3 334.3,130.8 337.7,130.3 343.7,134.6 347.7,134.0 351.7,138.2 355.0,135.7 357.7,136.4 363.7,129.8 367.0,132.3 370.3,137.0 375.0,140.9 377.7,140.2 384.3,129.0 388.3,132.8 392.3,139.4 397.0,136.9 403.7,143.6 405.7,130.7 409.0,130.1 414.3,132.3 417.7,130.1 423.7,139.5 427.0,133.8 430.3,134.4 435.0,129.8 437.7,130.2 441.0,135.1 448.3,141.1 454.3,132.8 459.7,132.6 463.3,130.3 468.7,137.8 472.7,137.8 478.0,131.4 482.7,130.3 488.0,140.5 491.3,132.4 494.7,134.1 500.0,137.2 504.0,133.9 506.0,135.8 511.3,133.2 514.0,134.6 517.3,130.7 520.0,131.0 524.0,138.6 526.7,140.0 529.3,136.6 532.7,137.2 537.3,130.7 542.0,132.1 544.7,136.6 549.3,145.1 554.7,133.3 560.0,131.1 566.7,130.9 570.7,138.4 576.0,142.2 579.3,143.1 586.0,131.2 589.3,130.0 595.3,130.6 600.0,143.2 603.3,139.4 609.3,136.8 615.0,133.7 620.3,131.7 625.0,143.6 627.7,145.1 631.7,143.8 641.0,131.0 647.0,130.8 651.0,142.1 659.0,131.4 669.7,131.3 673.0,135.6 676.3,148.5 681.0,137.8 687.7,130.8 691.0,133.2 695.0,132.0 699.7,141.8 702.3,136.8 705.7,136.8 710.3,131.2 716.3,132.1 720.3,136.2 724.3,144.1 728.3,135.2 733.7,141.8 739.7,130.3 743.0,131.4 748.3,138.4 753.7,131.7 760.3,139.7 765.7,133.5 769.7,136.0 772.7,145.9 776.0,134.6 780.0,131.2 783.3,136.0 786.7,137.2 790.7,131.6 793.3,132.2 796.0,135.1 804.0,131.5 807.3,132.0 810.7,136.2 814.7,134.2 816.0,131.5 821.3,144.4 828.7,133.8 833.3,133.0 838.0,134.5 842.0,133.5 846.0,134.7 854.0,132.5 860.7,131.2 866.7,142.8 869.3,140.6 872.7,132.1 875.3,131.6 878.0,134.5 880.0,133.3 884.0,139.9 889.3,139.7 892.7,137.3 897.3,131.2 904.7,131.2 910.0,133.6 916.0,141.8 922.7,130.9 926.0,130.9 930.0,133.2 933.5,138.7 937.0,142.2 940.6,138.0 943.4,139.8 947.7,137.3 950.5,135.9 953.3,130.8 957.6,132.6 961.8,136.5 967.5,139.5 970.3,135.6 975.3,131.3 978.1,131.7 982.4,131.1 985.9,135.9 990.2,136.8 994.4,138.5 1000.8,132.4 1006.4,135.8 1009.3,135.9 1012.1,133.7 1015.7,136.2 1019.9,134.7 1024.9,131.1 1029.8,132.5 1034.8,131.1 1037.6,131.6 1044.7,143.2 1048.2,136.7 1053.2,134.6 1059.6,130.6 1062.4,131.1 1069.5,142.6 1078.7,130.8 1085.0,124.2"/>
<polyline fill="none" stroke="#bb5f3b" stroke-width="1" points="157.3,173.8 160.0,172.8 164.7,174.5 168.7,173.8 171.3,175.2 174.7,183.8 177.3,183.8 182.7,177.2 185.3,176.5 188.7,174.1 194.0,183.5 197.3,181.8 204.7,177.8 212.0,175.5 215.3,176.2 224.0,187.8 232.0,177.2 235.3,177.2 242.0,181.8 246.0,186.5 251.3,185.5 258.0,177.2 263.3,179.8 271.3,188.8 274.7,187.8 283.3,177.2 288.7,182.5 291.3,183.8 294.7,181.8 300.0,190.5 305.3,177.2 309.0,179.8 314.3,188.8 317.0,188.2 323.7,181.5 325.7,183.8 331.0,179.8 334.3,180.5 337.7,179.8 343.7,184.5 347.7,183.8 351.7,187.8 355.0,185.2 357.7,185.8 363.7,178.5 367.0,181.2 370.3,185.8 375.0,189.2 377.7,188.5 384.3,176.8 388.3,181.2 392.3,187.8 397.0,185.8 403.7,192.5 405.7,179.8 409.0,179.2 414.3,181.8 417.7,179.2 423.7,188.8 427.0,183.2 430.3,183.8 435.0,178.5 437.7,179.2 441.0,184.5 448.3,190.5 454.3,182.5 459.7,182.5 463.3,179.8 468.7,187.8 472.7,187.8 478.0,181.2 482.7,179.8 488.0,190.5 491.3,182.5 494.7,184.5 500.0,187.8 504.0,184.5 506.0,186.5 511.3,183.8 514.0,185.2 517.3,180.8 520.0,181.2 524.0,189.2 526.7,190.5 529.3,187.2 532.7,187.8 537.3,180.8 542.0,182.5 544.7,187.2 549.3,195.2 554.7,183.8 560.0,181.2 566.7,180.8 570.7,188.5 576.0,191.8 579.3,192.5 586.0,180.5 589.3,178.9 595.3,179.8 600.0,192.5 603.3,189.2 609.3,187.2 615.0,184.5 620.3,182.5 625.0,194.5 627.7,195.8 631.7,194.5 641.0,181.2 647.0,180.8 651.0,192.5 659.0,181.8 669.7,181.8 673.0,186.5 676.3,198.5 681.0,188.5 687.7,180.8 691.0,183.8 695.0,182.5 699.7,192.5 702.3,187.8 705.7,187.8 710.3,181.8 716.3,182.9 720.3,187.2 724.3,194.5 728.3,185.8 733.7,191.8 739.7,179.8 743.0,181.2 748.3,188.5 753.7,181.8 760.3,190.5 765.7,184.5 769.7,187.2 772.7,196.5 776.0,185.8 780.0,181.8 783.3,187.2 786.7,188.5 790.7,182.5 793.3,183.2 796.0,186.5 804.0,182.5 807.3,183.2 810.7,187.8 814.7,185.8 816.0,182.5 821.3,195.8 828.7,185.8 833.3,185.2 838.0,186.9 842.0,185.8 846.0,186.9 854.0,183.8 860.7,181.8 866.7,193.8 869.3,191.8 872.7,183.2 875.3,182.5 878.0,185.8 880.0,184.5 884.0,191.2 889.3,190.9 892.7,188.5 897.3,181.8 904.7,181.8 910.0,184.5 916.0,192.5 922.7,181.2 926.0,181.2 930.0,183.9 933.5,189.5 937.0,192.8 940.6,188.8 943.4,190.5 947.7,188.1 950.5,186.7 953.3,181.0 957.6,183.2 961.8,187.4 967.5,190.5 970.3,186.7 975.3,182.0 978.1,182.5 982.4,181.7 985.9,187.1 990.2,188.1 994.4,190.0 1000.8,183.9 1006.4,187.7 1009.3,187.7 1012.1,185.3 1015.7,187.7 1019.9,186.0 1024.9,181.7 1029.8,183.5 1034.8,181.7 1037.6,182.5 1044.7,194.2 1048.2,188.1 1053.2,186.0 1059.6,181.7 1062.4,182.5 1069.5,194.2 1078.7,183.2 1085.0,177.5"/>
<polyline fill="none" stroke="#b95b3a" stroke-width="1" points="157.3,227.3 160.0,227.3 164.7,230.0 168.7,230.3 171.3,231.9 174.7,239.5 177.3,239.9 182.7,235.2 185.3,235.0 188.7,233.4 194.0,241.4 197.3,240.3 204.7,237.6 212.0,236.1 215.3,236.8 224.0,246.4 232.0,238.2 235.3,238.4 242.0,242.2 246.0,246.0 251.3,245.4 258.0,239.0 263.3,241.2 271.3,248.5 274.7,247.8 283.3,239.7 288.7,244.0 291.3,245.1 294.7,243.6 300.0,250.6 305.3,240.3 309.0,242.5 314.3,249.6 317.0,249.2 323.7,244.2 325.7,246.0 331.0,243.0 334.3,243.7 337.7,243.2 343.7,247.0 347.7,246.6 351.7,249.7 355.0,247.8 357.7,248.4 363.7,242.9 367.0,245.0 370.3,248.6 375.0,251.4 377.7,250.9 384.3,242.1 388.3,245.5 392.3,250.7 397.0,249.2 403.7,254.5 405.7,244.8 409.0,244.4 414.3,246.5 417.7,244.6 423.7,252.0 427.0,247.8 430.3,248.3 435.0,244.4 437.7,245.0 441.0,249.0 448.3,253.7 454.3,247.7 459.7,247.8 463.3,245.8 468.7,251.9 472.7,252.0 478.0,247.1 482.7,246.1 488.0,254.2 491.3,248.2 494.7,249.7 500.0,252.3 504.0,249.8 506.0,251.3 511.3,249.4 514.0,250.4 517.3,247.1 520.0,247.5 524.0,253.5 526.7,254.5 529.3,252.1 532.7,252.5 537.3,247.3 542.0,248.6 544.7,252.2 549.3,258.2 554.7,249.6 560.0,247.7 566.7,247.4 570.7,253.3 576.0,255.8 579.3,256.3 586.0,247.3 589.3,246.1 595.3,246.8 600.0,256.4 603.3,253.9 609.3,252.4 615.0,250.4 620.3,248.9 625.0,257.9 627.7,258.9 631.7,257.9 641.0,248.0 647.0,247.7 651.0,256.4 659.0,248.4 669.7,248.4 673.0,252.0 676.3,261.0 681.0,253.5 687.7,247.7 691.0,250.0 695.0,249.0 699.7,256.5 702.3,253.0 705.7,253.0 710.3,248.5 716.3,249.3 720.3,252.5 724.3,258.0 728.3,251.5 733.7,256.0 739.7,247.0 743.0,248.0 748.3,253.5 753.7,248.5 760.3,255.0 765.7,250.5 769.7,252.5 772.7,259.5 776.0,251.5 780.0,248.5 783.3,252.5 786.7,253.5 790.7,249.0 793.3,249.5 796.0,252.0 804.0,249.0 807.3,249.5 810.7,253.0 814.7,251.5 816.0,249.0 821.3,259.0 828.7,251.5 833.3,251.0 838.0,252.3 842.0,251.5 846.0,252.3 854.0,250.0 860.7,248.5 866.7,257.5 869.3,256.0 872.7,249.5 875.3,249.0 878.0,251.5 880.0,250.5 884.0,255.5 889.3,255.3 892.7,253.5 897.3,248.5 904.7,248.5 910.0,250.5 916.0,256.5 922.7,248.0 926.0,248.0 930.0,250.1 933.5,254.3 937.0,256.7 940.6,253.7 943.4,255.0 947.7,253.2 950.5,252.2 953.3,247.9 957.6,249.5 961.8,252.7 967.5,255.0 970.3,252.2 975.3,248.6 978.1,249.0 982.4,248.4 985.9,252.5 990.2,253.2 994.4,254.6 1000.8,250.1 1006.4,252.9 1009.3,252.9 1012.1,251.1 1015.7,252.9 1019.9,251.6 1024.9,248.4 1029.8,249.7 1034.8,248.3 1037.6,248.9 1044.7,257.6 1048.2,253.0 1053.2,251.3 1059.6,247.9 1062.4,248.4 1069.5,256.9 1078.7,247.7 1085.0,242.2"/>
<polyline fill="none" stroke="#b54f35" stroke-width="1" points="160.0,273.5 164.7,277.0 168.7,278.1 171.3,280.0 174.7,286.8 177.3,287.5 182.7,284.3 185.3,284.4 188.7,283.4 194.0,290.5 197.3,289.7 204.7,287.9 212.0,287.0 215.3,287.8 224.0,296.0 232.0,289.5 235.3,289.7 242.0,293.0 246.0,296.3 251.3,295.9 258.0,290.8 263.3,292.7 271.3,299.0 274.7,298.5 283.3,291.9 288.7,295.6 291.3,296.6 294.7,295.4 300.0,301.3 305.3,292.9 309.0,294.8 314.3,300.8 317.0,300.6 323.7,296.5 325.7,298.1 331.0,295.7 334.3,296.3 337.7,296.0 343.7,299.3 347.7,299.0 351.7,301.7 355.0,300.2 357.7,300.7 363.7,296.2 367.0,298.1 370.3,301.2 375.0,303.5 377.7,303.2 384.3,295.9 388.3,298.9 392.3,303.2 397.0,302.1 403.7,306.6 405.7,298.5 409.0,298.3 414.3,300.1 417.7,298.5 423.7,304.8 427.0,301.3 430.3,301.8 435.0,298.5 437.7,299.1 441.0,302.5 448.3,306.5 454.3,301.6 459.7,301.7 463.3,300.0 468.7,305.2 472.7,305.3 478.0,301.2 482.7,300.4 488.0,307.3 491.3,302.3 494.7,303.6 500.0,305.8 504.0,303.7 506.0,305.0 511.3,303.4 514.0,304.3 517.3,301.6 520.0,301.8 524.0,307.0 526.7,307.8 529.3,305.8 532.7,306.2 537.3,301.8 542.0,302.9 544.7,305.9 549.3,311.0 554.7,303.8 560.0,302.2 566.7,302.0 570.7,306.9 576.0,309.0 579.3,309.5 586.0,301.9 589.3,300.9 595.3,301.5 600.0,309.6 603.3,307.5 609.3,306.3 615.0,304.6 620.3,303.3 625.0,311.0 627.7,311.8 631.7,311.0 641.0,302.6 647.0,302.3 651.0,309.8 659.0,303.0 669.7,303.0 673.0,306.0 676.3,313.6 681.0,307.3 687.7,302.4 691.0,304.3 695.0,303.5 699.7,309.8 702.3,306.8 705.7,306.8 710.3,303.0 716.3,303.7 720.3,306.5 724.3,311.1 728.3,305.6 733.7,309.4 739.7,301.8 743.0,302.7 748.3,307.3 753.7,303.1 760.3,308.6 765.7,304.8 769.7,306.5 772.7,312.4 776.0,305.6 780.0,303.1 783.3,306.5 786.7,307.3 790.7,303.5 793.3,304.0 796.0,306.0 804.0,303.5 807.3,304.0 810.7,306.9 814.7,305.6 816.0,303.5 821.3,311.9 828.7,305.6 833.3,305.2 838.0,306.3 842.0,305.6 846.0,306.3 854.0,304.3 860.7,303.1 866.7,310.7 869.3,309.4 872.7,304.0 875.3,303.5 878.0,305.6 880.0,304.8 884.0,309.0 889.3,308.8 892.7,307.3 897.3,303.1 904.7,303.1 910.0,304.8 916.0,309.8 922.7,302.7 926.0,302.7 930.0,304.4 933.5,308.0 937.0,310.0 940.6,307.5 943.4,308.6 947.7,307.1 950.5,306.2 953.3,302.6 957.6,304.0 961.8,306.6 967.5,308.6 970.3,306.2 975.3,303.2 978.1,303.5 982.4,303.0 985.9,306.4 990.2,307.1 994.4,308.3 1000.8,304.4 1006.4,306.8 1009.3,306.8 1012.1,305.3 1015.7,306.8 1019.9,305.7 1024.9,303.0 1029.8,304.1 1034.8,302.9 1037.6,303.4 1044.7,310.7 1048.2,306.8 1053.2,305.4 1059.6,302.4 1062.4,302.8 1069.5,309.9 1078.7,301.8 1085.0,297.0"/>
<polyline fill="none" stroke="#bf3826" stroke-width="1" points="160.0,324.6 164.7,326.4 168.7,326.7 171.3,327.7 174.7,332.4 177.3,332.7 182.7,329.9 185.3,329.7 188.7,328.7 194.0,333.7 197.3,333.0 204.7,331.4 212.0,330.5 215.3,330.9 224.0,336.8 232.0,331.8 235.3,331.9 242.0,334.3 246.0,336.6 251.3,336.2 258.0,332.3 263.3,333.7 271.3,338.1 274.7,337.7 283.3,332.8 288.7,335.4 291.3,336.0 294.7,335.2 300.0,339.4 305.3,333.1 309.0,334.4 314.3,338.8 317.0,338.6 323.7,335.5 325.7,336.6 331.0,334.8 334.3,335.2 337.7,334.9 343.7,337.2 347.7,336.9 351.7,338.9 355.0,337.7 357.7,338.0 363.7,334.7 367.0,336.0 370.3,338.2 375.0,339.9 377.7,339.6 384.3,334.2 388.3,336.3 392.3,339.4 397.0,338.6 403.7,341.8 405.7,335.9 409.0,335.6 414.3,336.9 417.7,335.7 423.7,340.3 427.0,337.7 430.3,338.0 435.0,335.6 437.7,336.0 441.0,338.4 448.3,341.3 454.3,337.6 459.7,337.7 463.3,336.5 468.7,340.2 472.7,340.2 478.0,337.2 482.7,336.6 488.0,341.6 491.3,337.9 494.7,338.8 500.0,340.4 504.0,338.9 506.0,339.8 511.3,338.6 514.0,339.3 517.3,337.3 520.0,337.5 524.0,341.1 526.7,341.8 529.3,340.2 532.7,340.5 537.3,337.3 542.0,338.1 544.7,340.3 549.3,344.0 554.7,338.8 560.0,337.6 566.7,337.4 570.7,341.0 576.0,342.5 579.3,342.8 586.0,337.3 589.3,336.6 595.3,337.0 600.0,342.9 603.3,341.4 609.3,340.4 615.0,339.2 620.3,338.3 625.0,343.8 627.7,344.4 631.7,343.8 641.0,337.7 647.0,337.6 651.0,342.9 659.0,338.0 669.7,338.0 673.0,340.2 676.3,345.7 681.0,341.1 687.7,337.6 691.0,339.0 695.0,338.4 699.7,342.9 702.3,340.8 705.7,340.8 710.3,338.0 716.3,338.5 720.3,340.5 724.3,343.9 728.3,339.9 733.7,342.6 739.7,337.1 743.0,337.8 748.3,341.1 753.7,338.1 760.3,342.0 765.7,339.3 769.7,340.5 772.7,344.8 776.0,339.9 780.0,338.1 783.3,340.5 786.7,341.1 790.7,338.4 793.3,338.7 796.0,340.2 804.0,338.4 807.3,338.7 810.7,340.8 814.7,339.9 816.0,338.4 821.3,344.5 828.7,339.9 833.3,339.6 838.0,340.4 842.0,339.9 846.0,340.4 854.0,339.0 860.7,338.1 866.7,343.5 869.3,342.6 872.7,338.7 875.3,338.4 878.0,339.9 880.0,339.3 884.0,342.4 889.3,342.2 892.7,341.1 897.3,338.1 904.7,338.1 910.0,339.3 916.0,342.9 922.7,337.8 926.0,337.8 930.0,339.0 933.5,341.6 937.0,343.1 940.6,341.3 943.4,342.0 947.7,340.9 950.5,340.3 953.3,337.7 957.6,338.7 961.8,340.6 967.5,342.0 970.3,340.3 975.3,338.1 978.1,338.4 982.4,338.0 985.9,340.5 990.2,340.9 994.4,341.8 1000.8,339.0 1006.4,340.7 1009.3,340.7 1012.1,339.6 1015.7,340.7 1019.9,339.9 1024.9,338.0 1029.8,338.8 1034.8,337.9 1037.6,338.3 1044.7,343.6 1048.2,340.8 1053.2,339.7 1059.6,337.6 1062.4,337.9 1069.5,343.0 1078.7,337.1"/>
<polyline fill="none" stroke="#ba2721" stroke-width="1" points="160.0,352.3 164.7,353.1 168.7,353.1 171.3,353.6 174.7,356.4 177.3,356.4 182.7,354.6 185.3,354.4 188.7,353.8 194.0,356.7 197.3,356.2 204.7,355.1 212.0,354.5 215.3,354.8 224.0,358.2 232.0,355.2 235.3,355.2 242.0,356.6 246.0,358.0 251.3,357.7 258.0,355.4 263.3,356.1 271.3,358.8 274.7,358.5 283.3,355.5 288.7,357.0 291.3,357.4 294.7,356.9 300.0,359.4 305.3,355.6 309.0,356.4 314.3,359.0 317.0,358.8 323.7,356.9 325.7,357.6 331.0,356.5 334.3,356.7 337.7,356.5 343.7,357.9 347.7,357.7 351.7,358.8 355.0,358.1 357.7,358.3 363.7,356.3 367.0,357.1 370.3,358.4 375.0,359.3 377.7,359.1 384.3,355.9 388.3,357.2 392.3,359.0 397.0,358.5 403.7,360.3 405.7,356.8 409.0,356.7 414.3,357.4 417.7,356.7 423.7,359.4 427.0,357.8 430.3,358.0 435.0,356.6 437.7,356.8 441.0,358.2 448.3,359.9 454.3,357.7 459.7,357.7 463.3,357.0 468.7,359.2 472.7,359.2 478.0,357.4 482.7,357.1 488.0,360.0 491.3,357.8 494.7,358.4 500.0,359.3 504.0,358.4 506.0,358.9 511.3,358.2 514.0,358.6 517.3,357.4 520.0,357.5 524.0,359.7 526.7,360.1 529.3,359.2 532.7,359.3 537.3,357.4 542.0,357.9 544.7,359.2 549.3,361.4 554.7,358.3 560.0,357.6 566.7,357.5 570.7,359.5 576.0,360.4 579.3,360.6 586.0,357.4 589.3,357.0 595.3,357.2 600.0,360.6 603.3,359.8 609.3,359.2 615.0,358.5 620.3,357.9 625.0,361.2 627.7,361.6 631.7,361.2 641.0,357.6 647.0,357.5 651.0,360.7 659.0,357.8 669.7,357.8 673.0,359.0 676.3,362.3 681.0,359.6 687.7,357.5 691.0,358.3 695.0,358.0 699.7,360.7 702.3,359.4 705.7,359.4 710.3,357.8 716.3,358.1 720.3,359.2 724.3,361.2 728.3,358.9 733.7,360.5 739.7,357.2 743.0,357.6 748.3,359.6 753.7,357.8 760.3,360.1 765.7,358.5 769.7,359.2 772.7,361.8 776.0,358.9 780.0,357.8 783.3,359.2 786.7,359.6 790.7,358.0 793.3,358.2 796.0,359.0 804.0,358.0 807.3,358.2 810.7,359.4 814.7,358.9 816.0,358.0 821.3,361.6 828.7,358.9 833.3,358.7 838.0,359.2 842.0,358.9 846.0,359.2 854.0,358.3 860.7,357.8 866.7,361.0 869.3,360.5 872.7,358.2 875.3,358.0 878.0,358.9 880.0,358.5 884.0,360.3 889.3,360.2 892.7,359.6 897.3,357.8 904.7,357.8 910.0,358.5 916.0,360.7 922.7,357.6 926.0,357.6 930.0,358.3 933.5,359.9 937.0,360.8 940.6,359.7 943.4,360.1 947.7,359.5 950.5,359.1 953.3,357.6 957.6,358.2 961.8,359.3 967.5,360.1 970.3,359.1 975.3,357.8 978.1,358.0 982.4,357.7 985.9,359.2 990.2,359.5 994.4,360.0 1000.8,358.3 1006.4,359.4 1009.3,359.4 1012.1,358.7 1015.7,359.4 1019.9,358.9 1024.9,357.7 1029.8,358.2 1034.8,357.7 1037.6,357.9 1044.7,361.1 1048.2,359.4 1053.2,358.8 1059.6,357.5 1062.4,357.7 1069.5,360.8 1078.7,357.3"/>
<polyline fill="none" stroke="#b41e1e" stroke-width="1" points="160.0,366.6 164.7,366.6 168.7,366.6 171.3,366.6 174.7,367.2 177.3,367.2 182.7,366.7 185.3,366.7 188.7,366.5 194.0,367.1 197.3,367.0 204.7,366.7 212.0,366.6 215.3,366.6 224.0,367.3 232.0,366.6 235.3,366.6 242.0,366.9 246.0,367.2 251.3,367.2 258.0,366.6 263.3,366.8 271.3,367.4 274.7,367.3 283.3,366.6 288.7,366.9 291.3,367.0 294.7,366.9 300.0,367.4 305.3,366.6 309.0,366.8 314.3,367.3 317.0,367.3 323.7,366.8 325.7,367.0 331.0,366.7 334.3,366.8 337.7,366.7 343.7,367.0 347.7,367.0 351.7,367.2 355.0,367.1 357.7,367.1 363.7,366.6 367.0,366.8 370.3,367.1 375.0,367.3 377.7,367.3 384.3,366.5 388.3,366.8 392.3,367.2 397.0,367.1 403.7,367.5 405.7,366.7 409.0,366.6 414.3,366.8 417.7,366.6 423.7,367.3 427.0,366.9 430.3,366.9 435.0,366.6 437.7,366.6 441.0,367.0 448.3,367.3 454.3,366.8 459.7,366.8 463.3,366.7 468.7,367.2 472.7,367.2 478.0,366.7 482.7,366.7 488.0,367.3 491.3,366.8 494.7,366.9 500.0,367.2 504.0,366.9 506.0,367.1 511.3,366.9 514.0,367.0 517.3,366.7 520.0,366.7 524.0,367.2 526.7,367.3 529.3,367.1 532.7,367.1 537.3,366.7 542.0,366.8 544.7,367.1 549.3,367.6 554.7,366.9 560.0,366.7 566.7,366.7 570.7,367.2 576.0,367.4 579.3,367.4 586.0,366.7 589.3,366.6 595.3,366.6 600.0,367.4 603.3,367.2 609.3,367.1 615.0,366.9 620.3,366.8 625.0,367.6 627.7,367.6 631.7,367.6 641.0,366.7 647.0,366.7 651.0,367.4 659.0,366.8 669.7,366.8 673.0,367.1 676.3,367.8 681.0,367.2 687.7,366.7 691.0,366.9 695.0,366.8 699.7,367.4 702.3,367.1 705.7,367.1 710.3,366.8 716.3,366.8 720.3,367.1 724.3,367.6 728.3,367.0 733.7,367.4 739.7,366.6 743.0,366.7 748.3,367.2 753.7,366.8 760.3,367.3 765.7,366.9 769.7,367.1 772.7,367.7 776.0,367.0 780.0,366.8 783.3,367.1 786.7,367.2 790.7,366.8 793.3,366.8 796.0,367.1 804.0,366.8 807.3,366.8 810.7,367.1 814.7,367.0 816.0,366.8 821.3,367.6 828.7,367.0 833.3,367.0 838.0,367.1 842.0,367.0 846.0,367.1 854.0,366.9 860.7,366.8 866.7,367.5 869.3,367.4 872.7,366.8 875.3,366.8 878.0,367.0 880.0,366.9 884.0,367.4 889.3,367.3 892.7,367.2 897.3,366.8 904.7,366.8 910.0,366.9 916.0,367.4 922.7,366.7 926.0,366.7 930.0,366.9 933.5,367.2 937.0,367.5 940.6,367.2 943.4,367.3 947.7,367.2 950.5,367.1 953.3,366.7 957.6,366.8 961.8,367.1 967.5,367.3 970.3,367.1 975.3,366.8 978.1,366.8 982.4,366.7 985.9,367.1 990.2,367.2 994.4,367.3 1000.8,366.9 1006.4,367.1 1009.3,367.1 1012.1,367.0 1015.7,367.1 1019.9,367.0 1024.9,366.8 1029.8,366.9 1034.8,366.8 1037.6,366.8 1044.7,367.6 1048.2,367.2 1053.2,367.1 1059.6,366.8 1062.4,366.9 1069.5,367.7 1078.7,367.1 1085.0,366.8"/>
<polyline fill="none" stroke="#ac1010" stroke-width="1" points="160.0,369.1 164.7,369.2 168.7,369.1 171.3,369.2 174.7,369.4 177.3,369.4 182.7,369.2 185.3,369.2 188.7,369.1 194.0,369.4 197.3,369.3 204.7,369.2 212.0,369.1 215.3,369.1 224.0,369.5 232.0,369.2 235.3,369.2 242.0,369.3 246.0,369.5 251.3,369.4 258.0,369.2 263.3,369.2 271.3,369.5 274.7,369.5 283.3,369.1 288.7,369.3 291.3,369.4 294.7,369.3 300.0,369.6 305.3,369.1 309.0,369.2 314.3,369.5 317.0,369.5 323.7,369.3 325.7,369.3 331.0,369.2 334.3,369.2 337.7,369.2 343.7,369.4 347.7,369.3 351.7,369.5 355.0,369.4 357.7,369.4 363.7,369.2 367.0,369.2 370.3,369.4 375.0,369.5 377.7,369.5 384.3,369.1 388.3,369.2 392.3,369.4 397.0,369.4 403.7,369.6 405.7,369.2 409.0,369.2 414.3,369.3 417.7,369.2 423.7,369.5 427.0,369.3 430.3,369.3 435.0,369.1 437.7,369.2 441.0,369.3 448.3,369.5 454.3,369.3 459.7,369.3 463.3,369.2 468.7,369.4 472.7,369.4 478.0,369.2 482.7,369.2 488.0,369.5 491.3,369.3 494.7,369.3 500.0,369.4 504.0,369.3 506.0,369.4 511.3,369.3 514.0,369.3 517.3,369.2 520.0,369.2 524.0,369.5 526.7,369.5 529.3,369.4 532.7,369.4 537.3,369.2 542.0,369.3 544.7,369.4 549.3,369.7 554.7,369.3 560.0,369.2 566.7,369.2 570.7,369.4 576.0,369.5 579.3,369.6 586.0,369.2 589.3,369.1 595.3,369.2 600.0,369.6 603.3,369.5 609.3,369.4 615.0,369.3 620.3,369.2 625.0,369.6 627.7,369.7 631.7,369.6 641.0,369.2 647.0,369.2 651.0,369.6 659.0,369.2 669.7,369.2 673.0,369.4 676.3,369.8 681.0,369.4 687.7,369.2 691.0,369.3 695.0,369.2 699.7,369.6 702.3,369.4 705.7,369.4 710.3,369.2 716.3,369.3 720.3,369.4 724.3,369.6 728.3,369.4 733.7,369.5 739.7,369.2 743.0,369.2 748.3,369.4 753.7,369.2 760.3,369.5 765.7,369.3 769.7,369.4 772.7,369.7 776.0,369.4 780.0,369.2 783.3,369.4 786.7,369.4 790.7,369.2 793.3,369.3 796.0,369.4 804.0,369.2 807.3,369.3 810.7,369.4 814.7,369.4 816.0,369.2 821.3,369.7 828.7,369.4 833.3,369.3 838.0,369.4 842.0,369.4 846.0,369.4 854.0,369.3 860.7,369.2 866.7,369.6 869.3,369.5 872.7,369.3 875.3,369.2 878.0,369.4 880.0,369.3 884.0,369.5 889.3,369.5 892.7,369.4 897.3,369.2 904.7,369.2 910.0,369.3 916.0,369.6 922.7,369.2 926.0,369.2 930.0,369.3 933.5,369.5 937.0,369.6 940.6,369.4 943.4,369.5 947.7,369.4 950.5,369.4 953.3,369.2 957.6,369.3 961.8,369.4 967.5,369.5 970.3,369.4 975.3,369.2 978.1,369.2 982.4,369.2 985.9,369.4 990.2,369.4 994.4,369.5 1000.8,369.3 1006.4,369.4 1009.3,369.4 1012.1,369.3 1015.7,369.4 1019.9,369.4 1024.9,369.2 1029.8,369.3 1034.8,369.2 1037.6,369.3 1044.7,369.6 1048.2,369.4 1053.2,369.4 1059.6,369.3 1062.4,369.3 1069.5,369.7 1078.7,369.4 1085.0,369.3"/>
<polyline fill="none" stroke="#930d0d" stroke-width="1" points="160.0,370.2 164.7,370.2 168.7,370.2 171.3,370.2 174.7,370.4 177.3,370.4 182.7,370.2 185.3,370.2 188.7,370.2 194.0,370.3 197.3,370.3 204.7,370.2 212.0,370.2 215.3,370.2 224.0,370.4 232.0,370.2 235.3,370.2 242.0,370.3 246.0,370.4 251.3,370.4 258.0,370.2 263.3,370.3 271.3,370.4 274.7,370.4 283.3,370.2 288.7,370.3 291.3,370.3 294.7,370.3 300.0,370.4 305.3,370.2 309.0,370.2 314.3,370.4 317.0,370.4 323.7,370.3 325.7,370.3 331.0,370.2 334.3,370.2 337.7,370.2 343.7,370.3 347.7,370.3 351.7,370.4 355.0,370.3 357.7,370.3 363.7,370.2 367.0,370.3 370.3,370.3 375.0,370.4 377.7,370.4 384.3,370.2 388.3,370.3 392.3,370.4 397.0,370.3 403.7,370.5 405.7,370.2 409.0,370.2 414.3,370.3 417.7,370.2 423.7,370.4 427.0,370.3 430.3,370.3 435.0,370.2 437.7,370.2 441.0,370.3 448.3,370.4 454.3,370.3 459.7,370.3 463.3,370.2 468.7,370.4 472.7,370.4 478.0,370.2 482.7,370.2 488.0,370.4 491.3,370.3 494.7,370.3 500.0,370.4 504.0,370.3 506.0,370.3 511.3,370.3 514.0,370.3 517.3,370.2 520.0,370.2 524.0,370.4 526.7,370.4 529.3,370.3 532.7,370.4 537.3,370.2 542.0,370.3 544.7,370.3 549.3,370.5 554.7,370.3 560.0,370.2 566.7,370.2 570.7,370.4 576.0,370.4 579.3,370.4 586.0,370.2 589.3,370.2 595.3,370.2 600.0,370.4 603.3,370.4 609.3,370.3 615.0,370.3 620.3,370.3 625.0,370.5 627.7,370.5 631.7,370.5 641.0,370.2 647.0,370.2 651.0,370.4 659.0,370.2 669.7,370.2 673.0,370.3 676.3,370.6 681.0,370.4 687.7,370.2 691.0,370.3 695.0,370.3 699.7,370.4 702.3,370.4 705.7,370.4 710.3,370.2 716.3,370.3 720.3,370.3 724.3,370.5 728.3,370.3 733.7,370.4 739.7,370.2 743.0,370.2 748.3,370.4 753.7,370.2 760.3,370.4 765.7,370.3 769.7,370.3 772.7,370.5 776.0,370.3 780.0,370.2 783.3,370.3 786.7,370.4 790.7,370.3 793.3,370.3 796.0,370.3 804.0,370.3 807.3,370.3 810.7,370.4 814.7,370.3 816.0,370.3 821.3,370.5 828.7,370.3 833.3,370.3 838.0,370.3 842.0,370.3 846.0,370.3 854.0,370.3 860.7,370.2 866.7,370.5 869.3,370.4 872.7,370.3 875.3,370.3 878.0,370.3 880.0,370.3 884.0,370.4 889.3,370.4 892.7,370.4 897.3,370.2 904.7,370.2 910.0,370.3 916.0,370.4 922.7,370.2 926.0,370.2 930.0,370.3 933.5,370.4 937.0,370.4 940.6,370.4 943.4,370.4 947.7,370.4 950.5,370.3 953.3,370.2 957.6,370.3 961.8,370.3 967.5,370.4 970.3,370.3 975.3,370.2 978.1,370.3 982.4,370.2 985.9,370.3 990.2,370.4 994.4,370.4 1000.8,370.3 1006.4,370.4 1009.3,370.4 1012.1,370.3 1015.7,370.4 1019.9,370.3 1024.9,370.2 1029.8,370.3 1034.8,370.2 1037.6,370.3 1044.7,370.5 1048.2,370.4 1053.2,370.3 1059.6,370.3 1062.4,370.3 1069.5,370.5 1078.7,370.3 1085.0,370.3"/>
<polyline fill="none" stroke="#690a0a" stroke-width="1" points="160.0,371.4 164.7,371.4 168.7,371.4 171.3,371.4 174.7,371.4 177.3,371.4 182.7,371.4 185.3,371.4 188.7,371.4 194.0,371.4 197.3,371.4 204.7,371.4 212.0,371.4 215.3,371.4 224.0,371.4 232.0,371.4 235.3,371.4 242.0,371.4 246.0,371.4 251.3,371.4 258.0,371.4 263.3,371.4 271.3,371.4 274.7,371.4 283.3,371.4 288.7,371.4 291.3,371.4 294.7,371.4 300.0,371.4 305.3,371.4 309.0,371.4 314.3,371.4 317.0,371.4 323.7,371.4 325.7,371.4 331.0,371.4 334.3,371.4 337.7,371.4 343.7,371.4 347.7,371.4 351.7,371.4 355.0,371.4 357.7,371.4 363.7,371.4 367.0,371.4 370.3,371.4 375.0,371.4 377.7,371.4 384.3,371.4 388.3,371.4 392.3,371.4 397.0,371.4 403.7,371.4 405.7,371.4 409.0,371.4 414.3,371.4 417.7,371.4 423.7,371.4 427.0,371.4 430.3,371.4 435.0,371.4 437.7,371.4 441.0,371.4 448.3,371.4 454.3,371.4 459.7,371.4 463.3,371.4 468.7,371.4 472.7,371.4 478.0,371.4 482.7,371.4 488.0,371.4 491.3,371.4 494.7,371.4 500.0,371.4 504.0,371.4 506.0,371.4 511.3,371.4 514.0,371.4 517.3,371.4 520.0,371.4 524.0,371.4 526.7,371.4 529.3,371.4 532.7,371.4 537.3,371.4 542.0,371.4 544.7,371.4 549.3,371.5 554.7,371.4 560.0,371.4 566.7,371.4 570.7,371.4 576.0,371.4 579.3,371.4 586.0,371.4 589.3,371.4 595.3,371.4 600.0,371.4 603.3,371.4 609.3,371.4 615.0,371.4 620.3,371.4 625.0,371.5 627.7,371.5 631.7,371.5 641.0,371.4 647.0,371.4 651.0,371.4 659.0,371.4 669.7,371.4 673.0,371.4 676.3,371.5 681.0,371.4 687.7,371.4 691.0,371.4 695.0,371.4 699.7,371.4 702.3,371.4 705.7,371.4 710.3,371.4 716.3,371.4 720.3,371.4 724.3,371.5 728.3,371.4 733.7,371.4 739.7,371.4 743.0,371.4 748.3,371.4 753.7,371.4 760.3,371.4 765.7,371.4 769.7,371.4 772.7,371.5 776.0,371.4 780.0,371.4 783.3,371.4 786.7,371.4 790.7,371.4 793.3,371.4 796.0,371.4 804.0,371.4 807.3,371.4 810.7,371.4 814.7,371.4 816.0,371.4 821.3,371.5 828.7,371.4 833.3,371.4 838.0,371.4 842.0,371.4 846.0,371.4 854.0,371.4 860.7,371.4 866.7,371.4 869.3,371.4 872.7,371.4 875.3,371.4 878.0,371.4 880.0,371.4 884.0,371.4 889.3,371.4 892.7,371.4 897.3,371.4 904.7,371.4 910.0,371.4 916.0,371.4 922.7,371.4 926.0,371.4 930.0,371.4 933.5,371.4 937.0,371.4 940.6,371.4 943.4,371.4 947.7,371.4 950.5,371.4 953.3,371.4 957.6,371.4 961.8,371.4 967.5,371.4 970.3,371.4 975.3,371.4 978.1,371.4 982.4,371.4 985.9,371.4 990.2,371.4 994.4,371.4 1000.8,371.4 1006.4,371.4 1009.3,371.4 1012.1,371.4 1015.7,371.4 1019.9,371.4 1024.9,371.4 1029.8,371.4 1034.8,371.4 1037.6,371.4 1044.7,371.5 1048.2,371.4 1053.2,371.4 1059.6,371.4 1062.4,371.4 1069.5,371.5 1078.7,371.4 1085.0,371.4"/></g>
<g shape-rendering="crispEdges"><line x1="156.5" y1="75" x2="156.5" y2="373" stroke="#000" stroke-width="1"/>
<line x1="156" y1="372.5" x2="1087" y2="372.5" stroke="#000" stroke-width="1"/></g>
<g><text transform="matrix(0.9843 0 0 1.0735 170.92 408.00)">3465</text>
<text transform="matrix(0.9843 0 0 1.0735 325.92 408.00)">3470</text>
<text transform="matrix(0.9843 0 0 1.0735 479.92 408.00)">3475</text>
<text transform="matrix(0.9843 0 0 1.0735 634.92 408.00)">3480</text>
<text transform="matrix(0.9843 0 0 1.0735 789.92 408.00)">3485</text>
<text transform="matrix(0.9843 0 0 1.0735 943.92 408.00)">3490</text>
<text transform="matrix(0.9750 0 0 1.0588 134.30 89.00)">1</text>
<text transform="matrix(0.9750 0 0 1.0588 117.80 147.00)">0.8</text>
<text transform="matrix(0.9750 0 0 1.0588 117.80 206.00)">0.6</text>
<text transform="matrix(0.9750 0 0 1.0588 116.83 265.00)">0.4</text>
<text transform="matrix(0.9750 0 0 1.0588 117.80 324.00)">0.2</text>
<text transform="matrix(0.9750 0 0 1.0588 137.30 381.90)">0</text></g>
<text transform="matrix(0.9850 0 0 1.1176 591.73 55.00)">Bin 1</text>
<text transform="matrix(1.0043 0 0 1.0773 514.20 445.31)">Wavenumber [cm</text>
<text font-size="17" transform="matrix(1.0000 0 0 1.0333 702.00 433.70)">-1</text>
<text transform="matrix(0.7400 0 0 1.0773 720.00 445.31)">]</text>
<text transform="matrix(0 -1.0308 1.0773 0 103.51 320.63)">Transmittance [1]</text>
<defs><linearGradient id="hg503" gradientUnits="userSpaceOnUse" x1="0" y1="503.5" x2="0" y2="535.5"><stop offset="0" stop-color="#fff5a0"/><stop offset="0.35" stop-color="#fffac8"/><stop offset="1" stop-color="#fffdf0"/></linearGradient></defs><polygon fill="url(#hg503)" stroke="none" points="157.5,503.5 160.0,503.5 163.3,503.5 166.0,503.5 169.3,503.5 171.3,503.5 176.0,503.5 180.7,503.5 184.0,503.5 186.7,503.5 191.3,503.5 194.0,503.5 197.3,503.5 201.3,503.5 205.3,503.5 207.3,503.5 210.7,503.5 214.7,503.5 220.0,503.5 223.3,503.5 227.3,503.5 230.0,503.5 233.3,503.5 237.3,503.5 241.3,503.5 246.0,503.5 251.3,503.5 256.7,503.5 260.7,503.5 264.7,503.5 269.3,503.5 274.7,503.5 278.7,503.5 284.7,503.5 291.3,503.5 297.3,503.5 302.0,503.5 305.0,503.5 308.3,503.5 313.7,503.5 319.7,503.5 323.7,503.5 327.7,503.5 333.7,503.5 339.7,503.5 345.0,503.5 351.0,503.5 353.7,503.5 358.3,503.5 363.7,503.5 367.7,503.5 370.3,503.5 377.0,503.5 381.0,503.5 385.7,503.5 390.3,503.5 396.3,503.5 399.7,503.5 404.3,503.5 407.7,503.5 411.7,503.5 415.7,503.5 419.0,503.5 423.7,503.5 428.3,503.5 433.0,503.5 436.3,503.5 441.0,503.5 443.7,503.5 447.7,503.5 455.0,503.5 459.7,503.5 464.7,503.5 468.0,503.5 472.7,503.5 477.3,503.5 482.0,503.5 484.7,503.5 488.0,503.5 492.0,503.5 495.3,503.5 500.7,503.5 505.3,503.5 509.3,503.5 514.0,503.5 518.7,503.5 524.0,503.5 529.3,503.5 534.7,503.5 541.3,503.5 545.3,503.5 549.3,503.5 556.0,503.5 562.7,503.5 566.7,503.5 570.7,503.5 578.0,503.5 586.0,503.5 590.7,503.5 594.7,503.5 600.7,503.5 605.3,503.5 611.3,503.5 616.7,503.5 619.7,503.5 623.7,503.5 627.0,503.5 633.7,503.5 639.7,503.5 643.7,503.5 646.3,503.5 650.3,503.5 652.3,503.5 655.0,503.5 660.3,503.5 663.7,503.5 669.0,503.5 675.0,503.5 679.7,503.5 686.3,503.5 689.7,503.5 692.3,503.5 698.3,503.5 701.7,503.5 705.7,503.5 711.0,503.5 716.3,503.5 721.7,503.5 724.3,503.5 727.7,503.5 729.7,503.5 732.3,503.5 738.3,503.5 745.0,503.5 747.7,503.5 752.3,503.5 759.0,503.5 763.0,503.5 767.0,503.5 770.3,503.5 775.3,503.5 778.0,503.5 783.3,503.5 787.3,503.5 793.3,503.5 797.3,503.5 802.0,503.5 808.7,503.5 813.3,503.5 819.3,503.5 824.7,503.5 830.0,503.5 838.0,503.5 842.7,503.5 848.7,503.5 857.3,503.5 864.0,503.5 869.3,503.5 876.0,503.5 880.7,503.5 886.0,503.5 894.0,503.5 899.3,503.5 906.0,503.5 911.3,503.5 919.3,503.5 924.0,503.5 928.0,503.5 932.1,503.5 937.7,503.5 946.2,503.5 951.2,503.5 957.6,503.5 963.2,503.5 966.1,503.5 971.7,503.5 978.1,503.5 984.5,503.5 987.3,503.5 991.6,503.5 998.0,503.5 1005.0,503.5 1009.3,503.5 1011.4,503.5 1017.1,503.5 1024.2,503.5 1031.9,503.5 1038.3,503.5 1044.7,503.5 1049.6,503.5 1056.7,503.5 1059.6,503.5 1065.2,503.5 1068.1,503.5 1073.0,503.5 1075.8,503.5 1081.5,503.5 1081.5,518.2 1075.8,521.2 1073.0,523.2 1068.1,525.5 1065.2,527.8 1059.6,521.7 1056.7,521.4 1049.6,523.1 1044.7,523.7 1038.3,530.6 1031.9,521.6 1024.2,522.4 1017.1,521.6 1011.4,525.1 1009.3,523.9 1005.0,523.3 998.0,522.3 991.6,526.0 987.3,525.8 984.5,528.4 978.1,522.1 971.7,521.6 966.1,522.5 963.2,523.9 957.6,524.9 951.2,521.7 946.2,524.2 937.7,524.0 932.1,526.7 928.0,523.8 924.0,521.7 919.3,521.7 911.3,523.7 906.0,522.1 899.3,522.3 894.0,521.6 886.0,523.7 880.7,523.8 876.0,523.8 869.3,522.0 864.0,526.6 857.3,521.6 848.7,524.2 842.7,522.7 838.0,521.8 830.0,521.6 824.7,522.4 819.3,527.3 813.3,522.2 808.7,524.5 802.0,521.9 797.3,522.8 793.3,523.6 787.3,521.7 783.3,523.7 778.0,522.0 775.3,522.1 770.3,528.2 767.0,524.1 763.0,523.6 759.0,526.3 752.3,522.6 747.7,524.8 745.0,524.7 738.3,521.7 732.3,527.2 729.7,526.6 727.7,525.6 724.3,527.6 721.7,527.5 716.3,522.1 711.0,521.9 705.7,524.3 701.7,525.5 698.3,528.0 692.3,521.9 689.7,522.2 686.3,521.8 679.7,528.5 675.0,532.0 669.0,522.0 663.7,522.3 660.3,522.0 655.0,525.4 652.3,528.5 650.3,529.1 646.3,522.6 643.7,522.0 639.7,522.5 633.7,528.6 627.0,531.3 623.7,529.5 619.7,522.4 616.7,522.2 611.3,524.1 605.3,525.4 600.7,530.6 594.7,522.6 590.7,522.2 586.0,523.1 578.0,532.4 570.7,526.9 566.7,523.6 562.7,522.6 556.0,523.6 549.3,531.4 545.3,525.2 541.3,522.8 534.7,526.2 529.3,525.6 524.0,529.2 518.7,523.2 514.0,525.1 509.3,524.3 505.3,525.3 500.7,528.1 495.3,525.5 492.0,524.5 488.0,526.6 484.7,524.1 482.0,523.8 477.3,525.1 472.7,530.5 468.0,526.2 464.7,524.7 459.7,526.4 455.0,524.8 447.7,532.6 443.7,529.6 441.0,529.2 436.3,525.1 433.0,526.0 428.3,526.5 423.7,531.1 419.0,526.0 415.7,528.5 411.7,526.6 407.7,527.2 404.3,532.1 399.7,533.1 396.3,536.9 390.3,528.8 385.7,526.7 381.0,529.6 377.0,532.8 370.3,531.2 367.7,528.5 363.7,527.5 358.3,531.1 353.7,530.3 351.0,530.8 345.0,535.2 339.7,528.3 333.7,528.7 327.7,530.0 323.7,531.2 319.7,537.2 313.7,532.1 308.3,529.8 305.0,532.7 302.0,537.5 297.3,534.1 291.3,537.7 284.7,530.4 278.7,536.6 274.7,536.9 269.3,535.9 264.7,534.3 260.7,531.5 256.7,535.9 251.3,537.7 246.0,533.8 241.3,535.2 237.3,532.3 233.3,533.2 230.0,536.7 227.3,537.3 223.3,533.2 220.0,532.3 214.7,532.6 210.7,533.9 207.3,535.2 205.3,535.0 201.3,536.0 197.3,535.5 194.0,536.4 191.3,533.7 186.7,538.6 184.0,538.3 180.7,539.1 176.0,536.7 171.3,534.0 169.3,533.6 166.0,535.8 163.3,536.9 160.0,536.3 157.5,536.0"/>
<g shape-rendering="crispEdges"><line x1="169" y1="503.5" x2="1087" y2="503.5" stroke="#000" stroke-width="1" stroke-dasharray="1 4"/>
<line x1="169" y1="562.5" x2="1087" y2="562.5" stroke="#000" stroke-width="1" stroke-dasharray="1 4"/>
<line x1="169" y1="620.5" x2="1087" y2="620.5" stroke="#000" stroke-width="1" stroke-dasharray="1 4"/>
<line x1="169" y1="679.5" x2="1087" y2="679.5" stroke="#000" stroke-width="1" stroke-dasharray="1 4"/>
<line x1="169" y1="737.5" x2="1087" y2="737.5" stroke="#000" stroke-width="1" stroke-dasharray="1 4"/>
<line x1="200.5" y1="504" x2="200.5" y2="799" stroke="#000" stroke-width="1" stroke-dasharray="1 4"/>
<line x1="353.5" y1="506" x2="353.5" y2="799" stroke="#000" stroke-width="1" stroke-dasharray="1 4"/>
<line x1="507.5" y1="508" x2="507.5" y2="799" stroke="#000" stroke-width="1" stroke-dasharray="1 4"/>
<line x1="660.5" y1="505" x2="660.5" y2="799" stroke="#000" stroke-width="1" stroke-dasharray="1 4"/>
<line x1="814.5" y1="507" x2="814.5" y2="799" stroke="#000" stroke-width="1" stroke-dasharray="1 4"/>
<line x1="967.5" y1="504" x2="967.5" y2="799" stroke="#000" stroke-width="1" stroke-dasharray="1 4"/></g>
<g shape-rendering="crispEdges"><line x1="156" y1="503.5" x2="166" y2="503.5" stroke="#000" stroke-width="1"/>
<line x1="156" y1="562.5" x2="166" y2="562.5" stroke="#000" stroke-width="1"/>
<line x1="156" y1="620.5" x2="166" y2="620.5" stroke="#000" stroke-width="1"/>
<line x1="156" y1="679.5" x2="166" y2="679.5" stroke="#000" stroke-width="1"/>
<line x1="156" y1="737.5" x2="166" y2="737.5" stroke="#000" stroke-width="1"/>
<line x1="200.5" y1="789" x2="200.5" y2="799.5" stroke="#000" stroke-width="1"/>
<line x1="353.5" y1="789" x2="353.5" y2="799.5" stroke="#000" stroke-width="1"/>
<line x1="507.5" y1="789" x2="507.5" y2="799.5" stroke="#000" stroke-width="1"/>
<line x1="660.5" y1="789" x2="660.5" y2="799.5" stroke="#000" stroke-width="1"/>
<line x1="814.5" y1="789" x2="814.5" y2="799.5" stroke="#000" stroke-width="1"/>
<line x1="967.5" y1="789" x2="967.5" y2="799.5" stroke="#000" stroke-width="1"/></g>
<g shape-rendering="crispEdges"><line x1="163.5" y1="502.5" x2="1081.5" y2="502.5" stroke="#c8ffff" stroke-width="1"/>
<polyline fill="none" stroke="#5ac8a0" stroke-width="1" points="166.0,503.5 169.3,503.5 171.3,503.5 176.0,503.5 180.7,503.5 184.0,503.5 186.7,503.5 191.3,503.5 194.0,503.5 197.3,503.5 201.3,503.5 205.3,503.5 207.3,503.5 210.7,503.5 214.7,503.5 220.0,503.5 223.3,503.5 227.3,503.5 230.0,503.5 233.3,503.5 237.3,503.5 241.3,503.5 246.0,503.5 251.3,503.5 256.7,503.5 260.7,503.5 264.7,503.5 269.3,503.5 274.7,503.5 278.7,503.5 284.7,503.5 291.3,503.5 297.3,503.5 302.0,503.5 305.0,503.5 308.3,503.5 313.7,503.5 319.7,503.5 323.7,503.5 327.7,503.5 333.7,503.5 339.7,503.5 345.0,503.5 351.0,503.5 353.7,503.5 358.3,503.5 363.7,503.5 367.7,503.5 370.3,503.5 377.0,503.5 381.0,503.5 385.7,503.5 390.3,503.5 396.3,503.5 399.7,503.5 404.3,503.5 407.7,503.5 411.7,503.5 415.7,503.5 419.0,503.5 423.7,503.5 428.3,503.5 433.0,503.5 436.3,503.5 441.0,503.5 443.7,503.5 447.7,503.5 455.0,503.5 459.7,503.5 464.7,503.5 468.0,503.5 472.7,503.5 477.3,503.5 482.0,503.5 484.7,503.5 488.0,503.5 492.0,503.5 495.3,503.5 500.7,503.5 505.3,503.5 509.3,503.5 514.0,503.5 518.7,503.5 524.0,503.5 529.3,503.5 534.7,503.5 541.3,503.5 545.3,503.5 549.3,503.5 556.0,503.5 562.7,503.5 566.7,503.5 570.7,503.5 578.0,503.5 586.0,503.5 590.7,503.5 594.7,503.5 600.7,503.5 605.3,503.5 611.3,503.5 616.7,503.5 619.7,503.5 623.7,503.5 627.0,503.5 633.7,503.5 639.7,503.5 643.7,503.5 646.3,503.5 650.3,503.5 652.3,503.5 655.0,503.5 660.3,503.5 663.7,503.5 669.0,503.5 675.0,503.5 679.7,503.5 686.3,503.5 689.7,503.5 692.3,503.5 698.3,503.5 701.7,503.5 705.7,503.5 711.0,503.5 716.3,503.5 721.7,503.5 724.3,503.5 727.7,503.5 729.7,503.5 732.3,503.5 738.3,503.5 745.0,503.5 747.7,503.5 752.3,503.5 759.0,503.5 763.0,503.5 767.0,503.5 770.3,503.5 775.3,503.5 778.0,503.5 783.3,503.5 787.3,503.5 793.3,503.5 797.3,503.5 802.0,503.5 808.7,503.5 813.3,503.5 819.3,503.5 824.7,503.5 830.0,503.5 838.0,503.5 842.7,503.5 848.7,503.5 857.3,503.5 864.0,503.5 869.3,503.5 876.0,503.5 880.7,503.5 886.0,503.5 894.0,503.5 899.3,503.5 906.0,503.5 911.3,503.5 919.3,503.5 924.0,503.5 928.0,503.5 932.1,503.5 937.7,503.5 946.2,503.5 951.2,503.5 957.6,503.5 963.2,503.5 966.1,503.5 971.7,503.5 978.1,503.5 984.5,503.5 987.3,503.5 991.6,503.5 998.0,503.5 1005.0,503.5 1009.3,503.5 1011.4,503.5 1017.1,503.5 1024.2,503.5 1031.9,503.5 1038.3,503.5 1044.7,503.5 1049.6,503.5 1056.7,503.5 1059.6,503.5 1065.2,503.5 1068.1,503.5 1073.0,503.5 1075.8,503.5 1081.5,503.5"/>
<path fill="none" stroke="#2a7a70" stroke-width="1" d="M168.0 503.5H171.0M229.0 503.5H232.0M260.0 503.5H264.0M311.0 503.5H313.0M340.0 503.5H347.0M406.0 503.5H408.0M441.0 503.5H445.0M485.0 503.5H489.0M518.0 503.5H521.0M542.0 503.5H544.0M578.0 503.5H580.0M616.0 503.5H618.0M665.0 503.5H675.0M733.0 503.5H737.0M764.0 503.5H767.0M817.0 503.5H819.0M840.0 503.5H849.0M883.0 503.5H886.0M931.0 503.5H933.0M983.0 503.5H986.0M1044.0 503.5H1047.0"/>
<polyline fill="none" stroke="#94ff6b" stroke-width="1" points="157.5,505.3 160.0,505.3 163.3,505.4 166.0,505.3 169.3,505.1 171.3,505.2 176.0,505.4 180.7,505.5 184.0,505.5 186.7,505.5 191.3,505.1 194.0,505.3 197.3,505.3 201.3,505.3 205.3,505.2 207.3,505.2 210.7,505.2 214.7,505.1 220.0,505.0 223.3,505.1 227.3,505.4 230.0,505.4 233.3,505.1 237.3,505.0 241.3,505.2 246.0,505.2 251.3,505.4 256.7,505.3 260.7,505.0 264.7,505.2 269.3,505.3 274.7,505.4 278.7,505.3 284.7,504.9 291.3,505.4 297.3,505.2 302.0,505.4 305.0,505.1 308.3,504.9 313.7,505.0 319.7,505.4 323.7,505.0 327.7,504.9 333.7,504.8 339.7,504.8 345.0,505.2 351.0,504.9 353.7,504.9 358.3,505.0 363.7,504.7 367.7,504.8 370.3,505.0 377.0,505.1 381.0,504.9 385.7,504.7 390.3,504.8 396.3,505.3 399.7,505.1 404.3,505.0 407.7,504.7 411.7,504.7 415.7,504.8 419.0,504.6 423.7,504.9 428.3,504.7 433.0,504.6 436.3,504.6 441.0,504.8 443.7,504.8 447.7,505.0 455.0,504.6 459.7,504.7 464.7,504.6 468.0,504.7 472.7,504.9 477.3,504.6 482.0,504.5 484.7,504.5 488.0,504.7 492.0,504.6 495.3,504.6 500.7,504.7 505.3,504.6 509.3,504.5 514.0,504.6 518.7,504.5 524.0,504.8 529.3,504.6 534.7,504.6 541.3,504.5 545.3,504.6 549.3,504.9 556.0,504.5 562.7,504.4 566.7,504.5 570.7,504.7 578.0,504.9 586.0,504.5 590.7,504.4 594.7,504.4 600.7,504.8 605.3,504.6 611.3,504.5 616.7,504.4 619.7,504.4 623.7,504.8 627.0,504.9 633.7,504.7 639.7,504.4 643.7,504.4 646.3,504.4 650.3,504.8 652.3,504.7 655.0,504.6 660.3,504.4 663.7,504.4 669.0,504.4 675.0,504.9 679.7,504.7 686.3,504.4 689.7,504.4 692.3,504.4 698.3,504.7 701.7,504.6 705.7,504.5 711.0,504.4 716.3,504.4 721.7,504.7 724.3,504.7 727.7,504.6 729.7,504.6 732.3,504.7 738.3,504.4 745.0,504.5 747.7,504.5 752.3,504.4 759.0,504.6 763.0,504.5 767.0,504.5 770.3,504.7 775.3,504.4 778.0,504.4 783.3,504.5 787.3,504.4 793.3,504.5 797.3,504.4 802.0,504.4 808.7,504.5 813.3,504.4 819.3,504.7 824.7,504.4 830.0,504.4 838.0,504.4 842.7,504.4 848.7,504.5 857.3,504.4 864.0,504.6 869.3,504.4 876.0,504.5 880.7,504.5 886.0,504.5 894.0,504.4 899.3,504.4 906.0,504.4 911.3,504.5 919.3,504.4 924.0,504.4 928.0,504.5 932.1,504.6 937.7,504.5 946.2,504.5 951.2,504.4 957.6,504.5 963.2,504.5 966.1,504.4 971.7,504.4 978.1,504.4 984.5,504.7 987.3,504.6 991.6,504.6 998.0,504.4 1005.0,504.5 1009.3,504.5 1011.4,504.6 1017.1,504.4 1024.2,504.4 1031.9,504.4 1038.3,504.8 1044.7,504.5 1049.6,504.5 1056.7,504.4 1059.6,504.4 1065.2,504.7 1068.1,504.6 1073.0,504.5 1075.8,504.4 1081.5,504.2"/>
<polyline fill="none" stroke="#d1ff2e" stroke-width="1" points="157.5,507.6 160.0,507.7 163.3,507.8 166.0,507.6 169.3,507.3 171.3,507.3 176.0,507.7 180.7,508.1 184.0,508.0 186.7,508.0 191.3,507.3 194.0,507.7 197.3,507.6 201.3,507.6 205.3,507.5 207.3,507.5 210.7,507.3 214.7,507.1 220.0,507.1 223.3,507.2 227.3,507.8 230.0,507.7 233.3,507.2 237.3,507.1 241.3,507.5 246.0,507.3 251.3,507.9 256.7,507.6 260.7,506.9 264.7,507.4 269.3,507.6 274.7,507.8 278.7,507.7 284.7,506.8 291.3,507.9 297.3,507.3 302.0,507.8 305.0,507.1 308.3,506.7 313.7,507.0 319.7,507.7 323.7,506.9 327.7,506.7 333.7,506.5 339.7,506.5 345.0,507.4 351.0,506.8 353.7,506.7 358.3,506.9 363.7,506.4 367.7,506.5 370.3,506.9 377.0,507.1 381.0,506.6 385.7,506.2 390.3,506.5 396.3,507.6 399.7,507.1 404.3,506.9 407.7,506.3 411.7,506.2 415.7,506.5 419.0,506.1 423.7,506.8 428.3,506.2 433.0,506.1 436.3,506.0 441.0,506.5 443.7,506.6 447.7,506.9 455.0,506.0 459.7,506.2 464.7,505.9 468.0,506.1 472.7,506.6 477.3,506.0 482.0,505.8 484.7,505.9 488.0,506.2 492.0,505.9 495.3,506.0 500.7,506.3 505.3,506.0 509.3,505.9 514.0,506.0 518.7,505.7 524.0,506.4 529.3,506.0 534.7,506.1 541.3,505.7 545.3,506.0 549.3,506.7 556.0,505.8 562.7,505.7 566.7,505.8 570.7,506.1 578.0,506.8 586.0,505.7 590.7,505.6 594.7,505.7 600.7,506.6 605.3,506.0 611.3,505.8 616.7,505.6 619.7,505.6 623.7,506.4 627.0,506.6 633.7,506.3 639.7,505.6 643.7,505.6 646.3,505.6 650.3,506.4 652.3,506.3 655.0,506.0 660.3,505.6 663.7,505.6 669.0,505.6 675.0,506.7 679.7,506.3 686.3,505.5 689.7,505.6 692.3,505.6 698.3,506.2 701.7,506.0 705.7,505.8 711.0,505.6 716.3,505.6 721.7,506.2 724.3,506.2 727.7,506.0 729.7,506.1 732.3,506.1 738.3,505.5 745.0,505.9 747.7,505.9 752.3,505.6 759.0,506.0 763.0,505.7 767.0,505.8 770.3,506.3 775.3,505.6 778.0,505.6 783.3,505.8 787.3,505.5 793.3,505.7 797.3,505.7 802.0,505.6 808.7,505.8 813.3,505.6 819.3,506.1 824.7,505.6 830.0,505.5 838.0,505.5 842.7,505.6 848.7,505.8 857.3,505.5 864.0,506.1 869.3,505.6 876.0,505.8 880.7,505.8 886.0,505.8 894.0,505.5 899.3,505.6 906.0,505.6 911.3,505.8 919.3,505.5 924.0,505.5 928.0,505.8 932.1,506.1 937.7,505.8 946.2,505.8 951.2,505.5 957.6,505.9 963.2,505.8 966.1,505.6 971.7,505.5 978.1,505.6 984.5,506.3 987.3,506.0 991.6,506.0 998.0,505.6 1005.0,505.7 1009.3,505.8 1011.4,505.9 1017.1,505.5 1024.2,505.6 1031.9,505.5 1038.3,506.5 1044.7,505.8 1049.6,505.7 1056.7,505.5 1059.6,505.5 1065.2,506.2 1068.1,505.9 1073.0,505.7 1075.8,505.5 1081.5,505.1"/>
<polyline fill="none" stroke="#faff05" stroke-width="1" points="157.5,510.7 160.0,510.8 163.3,511.0 166.0,510.6 169.3,509.9 171.3,510.1 176.0,510.9 180.7,511.6 184.0,511.4 186.7,511.5 191.3,510.0 194.0,510.8 197.3,510.5 201.3,510.7 205.3,510.4 207.3,510.4 210.7,510.1 214.7,509.7 220.0,509.6 223.3,509.9 227.3,511.1 230.0,510.9 233.3,509.8 237.3,509.6 241.3,510.5 246.0,510.0 251.3,511.2 256.7,510.7 260.7,509.4 264.7,510.2 269.3,510.7 274.7,511.0 278.7,510.8 284.7,509.1 291.3,511.2 297.3,510.1 302.0,511.1 305.0,509.8 308.3,509.0 313.7,509.6 319.7,510.9 323.7,509.3 327.7,509.0 333.7,508.7 339.7,508.6 345.0,510.4 351.0,509.2 353.7,509.1 358.3,509.3 363.7,508.4 367.7,508.6 370.3,509.3 377.0,509.7 381.0,508.9 385.7,508.2 390.3,508.7 396.3,510.6 399.7,509.7 404.3,509.4 407.7,508.3 411.7,508.1 415.7,508.6 419.0,508.0 423.7,509.2 428.3,508.1 433.0,508.0 436.3,507.8 441.0,508.7 443.7,508.8 447.7,509.4 455.0,507.7 459.7,508.0 464.7,507.7 468.0,508.0 472.7,508.9 477.3,507.7 482.0,507.5 484.7,507.5 488.0,508.0 492.0,507.6 495.3,507.8 500.7,508.3 505.3,507.8 509.3,507.6 514.0,507.7 518.7,507.3 524.0,508.5 529.3,507.8 534.7,507.9 541.3,507.2 545.3,507.7 549.3,508.9 556.0,507.4 562.7,507.2 566.7,507.4 570.7,508.0 578.0,509.0 586.0,507.3 590.7,507.1 594.7,507.2 600.7,508.7 605.3,507.7 611.3,507.4 616.7,507.1 619.7,507.1 623.7,508.4 627.0,508.8 633.7,508.3 639.7,507.1 643.7,507.0 646.3,507.1 650.3,508.4 652.3,508.2 655.0,507.7 660.3,507.0 663.7,507.1 669.0,507.0 675.0,508.9 679.7,508.2 686.3,507.0 689.7,507.1 692.3,507.0 698.3,508.1 701.7,507.7 705.7,507.4 711.0,507.0 716.3,507.0 721.7,508.0 724.3,508.1 727.7,507.7 729.7,507.9 732.3,508.0 738.3,507.0 745.0,507.5 747.7,507.5 752.3,507.1 759.0,507.8 763.0,507.3 767.0,507.4 770.3,508.2 775.3,507.0 778.0,507.0 783.3,507.3 787.3,507.0 793.3,507.3 797.3,507.2 802.0,507.0 808.7,507.5 813.3,507.1 819.3,508.0 824.7,507.1 830.0,506.9 838.0,507.0 842.7,507.1 848.7,507.4 857.3,506.9 864.0,507.9 869.3,507.0 876.0,507.3 880.7,507.4 886.0,507.3 894.0,506.9 899.3,507.1 906.0,507.0 911.3,507.3 919.3,507.0 924.0,507.0 928.0,507.3 932.1,507.9 937.7,507.4 946.2,507.4 951.2,507.0 957.6,507.6 963.2,507.4 966.1,507.1 971.7,506.9 978.1,507.0 984.5,508.2 987.3,507.7 991.6,507.7 998.0,507.1 1005.0,507.3 1009.3,507.4 1011.4,507.6 1017.1,506.9 1024.2,507.1 1031.9,506.9 1038.3,508.6 1044.7,507.3 1049.6,507.2 1056.7,506.9 1059.6,506.9 1065.2,508.1 1068.1,507.6 1073.0,507.2 1075.8,506.8 1081.5,506.3"/>
<polyline fill="none" stroke="#ecd64e" stroke-width="1" points="157.5,515.0 160.0,515.1 163.3,515.4 166.0,514.8 169.3,513.7 171.3,513.9 176.0,515.3 180.7,516.6 184.0,516.2 186.7,516.3 191.3,513.8 194.0,515.2 197.3,514.7 201.3,515.0 205.3,514.5 207.3,514.6 210.7,513.9 214.7,513.2 220.0,513.1 223.3,513.6 227.3,515.7 230.0,515.4 233.3,513.6 237.3,513.1 241.3,514.7 246.0,513.9 251.3,516.0 256.7,515.1 260.7,512.8 264.7,514.3 269.3,515.1 274.7,515.7 278.7,515.5 284.7,512.3 291.3,516.1 297.3,514.2 302.0,515.9 305.0,513.5 308.3,512.1 313.7,513.3 319.7,515.7 323.7,512.8 327.7,512.3 333.7,511.7 339.7,511.5 345.0,514.7 351.0,512.7 353.7,512.5 358.3,512.8 363.7,511.2 367.7,511.7 370.3,512.9 377.0,513.5 381.0,512.2 385.7,510.9 390.3,511.8 396.3,515.2 399.7,513.6 404.3,513.2 407.7,511.1 411.7,510.9 415.7,511.6 419.0,510.6 423.7,512.7 428.3,510.8 433.0,510.6 436.3,510.3 441.0,511.9 443.7,512.0 447.7,513.1 455.0,510.2 459.7,510.8 464.7,510.1 468.0,510.7 472.7,512.3 477.3,510.2 482.0,509.8 484.7,509.9 488.0,510.8 492.0,510.0 495.3,510.4 500.7,511.3 505.3,510.3 509.3,509.9 514.0,510.2 518.7,509.5 524.0,511.6 529.3,510.4 534.7,510.6 541.3,509.4 545.3,510.2 549.3,512.3 556.0,509.7 562.7,509.3 566.7,509.6 570.7,510.8 578.0,512.6 586.0,509.5 590.7,509.2 594.7,509.3 600.7,512.0 605.3,510.2 611.3,509.8 616.7,509.1 619.7,509.2 623.7,511.6 627.0,512.2 633.7,511.3 639.7,509.2 643.7,509.1 646.3,509.3 650.3,511.4 652.3,511.2 655.0,510.2 660.3,509.1 663.7,509.2 669.0,509.1 675.0,512.4 679.7,511.2 686.3,509.0 689.7,509.1 692.3,509.0 698.3,511.0 701.7,510.2 705.7,509.8 711.0,509.0 716.3,509.1 721.7,510.9 724.3,510.9 727.7,510.2 729.7,510.6 732.3,510.8 738.3,509.0 745.0,509.9 747.7,510.0 752.3,509.3 759.0,510.5 763.0,509.6 767.0,509.7 770.3,511.1 775.3,509.1 778.0,509.1 783.3,509.6 787.3,509.0 793.3,509.6 797.3,509.3 802.0,509.0 808.7,509.9 813.3,509.1 819.3,510.8 824.7,509.2 830.0,508.9 838.0,509.0 842.7,509.3 848.7,509.8 857.3,508.9 864.0,510.6 869.3,509.1 876.0,509.6 880.7,509.7 886.0,509.6 894.0,508.9 899.3,509.2 906.0,509.1 911.3,509.6 919.3,509.0 924.0,509.0 928.0,509.6 932.1,510.6 937.7,509.7 946.2,509.8 951.2,509.0 957.6,510.0 963.2,509.7 966.1,509.2 971.7,508.9 978.1,509.1 984.5,511.1 987.3,510.3 991.6,510.4 998.0,509.2 1005.0,509.5 1009.3,509.7 1011.4,510.1 1017.1,508.9 1024.2,509.2 1031.9,508.9 1038.3,511.8 1044.7,509.6 1049.6,509.4 1056.7,508.9 1059.6,509.0 1065.2,510.9 1068.1,510.2 1073.0,509.4 1075.8,508.8 1081.5,507.9"/>
<polyline fill="none" stroke="#d9b45e" stroke-width="1" points="157.5,519.3 160.0,519.5 163.3,519.9 166.0,519.1 169.3,517.7 171.3,518.0 176.0,519.7 180.7,521.4 184.0,520.8 186.7,521.0 191.3,517.8 194.0,519.6 197.3,519.0 201.3,519.3 205.3,518.7 207.3,518.8 210.7,518.0 214.7,517.1 220.0,516.9 223.3,517.5 227.3,520.2 230.0,519.8 233.3,517.5 237.3,517.0 241.3,518.9 246.0,518.0 251.3,520.5 256.7,519.3 260.7,516.5 264.7,518.3 269.3,519.4 274.7,520.1 278.7,519.8 284.7,515.9 291.3,520.6 297.3,518.2 302.0,520.4 305.0,517.4 308.3,515.6 313.7,517.1 319.7,520.3 323.7,516.5 327.7,515.8 333.7,515.0 339.7,514.8 345.0,519.1 351.0,516.3 353.7,516.0 358.3,516.5 363.7,514.3 367.7,515.0 370.3,516.6 377.0,517.6 381.0,515.7 385.7,513.9 390.3,515.2 396.3,520.1 399.7,517.8 404.3,517.2 407.7,514.3 411.7,513.9 415.7,515.0 419.0,513.6 423.7,516.6 428.3,513.9 433.0,513.6 436.3,513.1 441.0,515.5 443.7,515.7 447.7,517.5 455.0,512.9 459.7,513.9 464.7,512.9 468.0,513.8 472.7,516.3 477.3,513.1 482.0,512.4 484.7,512.6 488.0,514.0 492.0,512.8 495.3,513.4 500.7,514.8 505.3,513.2 509.3,512.7 514.0,513.1 518.7,512.1 524.0,515.4 529.3,513.4 534.7,513.7 541.3,511.9 545.3,513.1 549.3,516.5 556.0,512.3 562.7,511.7 566.7,512.3 570.7,514.1 578.0,517.0 586.0,512.0 590.7,511.5 594.7,511.7 600.7,516.0 605.3,513.2 611.3,512.5 616.7,511.5 619.7,511.6 623.7,515.4 627.0,516.3 633.7,514.9 639.7,511.7 643.7,511.4 646.3,511.7 650.3,515.1 652.3,514.8 655.0,513.2 660.3,511.4 663.7,511.6 669.0,511.4 675.0,516.6 679.7,514.8 686.3,511.3 689.7,511.5 692.3,511.4 698.3,514.5 701.7,513.2 705.7,512.6 711.0,511.4 716.3,511.5 721.7,514.3 724.3,514.3 727.7,513.3 729.7,513.8 732.3,514.1 738.3,511.3 745.0,512.8 747.7,512.9 752.3,511.7 759.0,513.6 763.0,512.2 767.0,512.5 770.3,514.6 775.3,511.5 778.0,511.4 783.3,512.3 787.3,511.3 793.3,512.3 797.3,511.8 802.0,511.4 808.7,512.7 813.3,511.5 819.3,514.1 824.7,511.6 830.0,511.2 838.0,511.3 842.7,511.8 848.7,512.5 857.3,511.2 864.0,513.8 869.3,511.4 876.0,512.3 880.7,512.4 886.0,512.3 894.0,511.2 899.3,511.6 906.0,511.5 911.3,512.3 919.3,511.3 924.0,511.3 928.0,512.3 932.1,513.8 937.7,512.5 946.2,512.5 951.2,511.2 957.6,512.9 963.2,512.4 966.1,511.7 971.7,511.2 978.1,511.5 984.5,514.7 987.3,513.4 991.6,513.5 998.0,511.6 1005.0,512.1 1009.3,512.4 1011.4,513.0 1017.1,511.2 1024.2,511.6 1031.9,511.2 1038.3,515.8 1044.7,512.3 1049.6,512.0 1056.7,511.1 1059.6,511.3 1065.2,514.3 1068.1,513.2 1073.0,512.0 1075.8,511.1 1081.5,509.8"/>
<polyline fill="none" stroke="#d4a859" stroke-width="1" points="157.5,523.9 160.0,524.2 163.3,524.6 166.0,523.7 169.3,521.9 171.3,522.3 176.0,524.4 180.7,526.4 184.0,525.7 186.7,526.0 191.3,522.1 194.0,524.3 197.3,523.5 201.3,523.9 205.3,523.2 207.3,523.3 210.7,522.3 214.7,521.2 220.0,521.0 223.3,521.8 227.3,525.1 230.0,524.5 233.3,521.7 237.3,521.1 241.3,523.4 246.0,522.3 251.3,525.4 256.7,524.0 260.7,520.5 264.7,522.8 269.3,524.0 274.7,524.9 278.7,524.6 284.7,519.7 291.3,525.5 297.3,522.6 302.0,525.3 305.0,521.6 308.3,519.3 313.7,521.1 319.7,525.1 323.7,520.4 327.7,519.6 333.7,518.6 339.7,518.3 345.0,523.5 351.0,520.2 353.7,519.8 358.3,520.4 363.7,517.8 367.7,518.5 370.3,520.5 377.0,521.7 381.0,519.4 385.7,517.2 390.3,518.8 396.3,524.7 399.7,521.9 404.3,521.2 407.7,517.6 411.7,517.2 415.7,518.5 419.0,516.8 423.7,520.4 428.3,517.1 433.0,516.8 436.3,516.1 441.0,519.1 443.7,519.3 447.7,521.4 455.0,516.0 459.7,517.1 464.7,515.9 468.0,517.0 472.7,520.0 477.3,516.2 482.0,515.3 484.7,515.5 488.0,517.2 492.0,515.7 495.3,516.5 500.7,518.3 505.3,516.3 509.3,515.7 514.0,516.2 518.7,514.9 524.0,519.0 529.3,516.5 534.7,516.9 541.3,514.6 545.3,516.2 549.3,520.5 556.0,515.2 562.7,514.5 566.7,515.1 570.7,517.4 578.0,521.2 586.0,514.8 590.7,514.2 594.7,514.5 600.7,520.0 605.3,516.4 611.3,515.5 616.7,514.2 619.7,514.3 623.7,519.2 627.0,520.4 633.7,518.5 639.7,514.4 643.7,514.1 646.3,514.5 650.3,518.9 652.3,518.5 655.0,516.4 660.3,514.0 663.7,514.3 669.0,514.1 675.0,520.9 679.7,518.5 686.3,513.9 689.7,514.2 692.3,514.0 698.3,518.1 701.7,516.5 705.7,515.6 711.0,514.0 716.3,514.1 721.7,517.8 724.3,517.9 727.7,516.5 729.7,517.2 732.3,517.6 738.3,513.8 745.0,515.9 747.7,516.0 752.3,514.5 759.0,517.0 763.0,515.1 767.0,515.5 770.3,518.3 775.3,514.1 778.0,514.1 783.3,515.2 787.3,513.9 793.3,515.2 797.3,514.6 802.0,514.0 808.7,515.7 813.3,514.2 819.3,517.6 824.7,514.3 830.0,513.8 838.0,514.0 842.7,514.5 848.7,515.5 857.3,513.8 864.0,517.2 869.3,514.1 876.0,515.3 880.7,515.3 886.0,515.2 894.0,513.8 899.3,514.3 906.0,514.1 911.3,515.2 919.3,513.9 924.0,513.9 928.0,515.3 932.1,517.2 937.7,515.4 946.2,515.5 951.2,513.8 957.6,516.1 963.2,515.3 966.1,514.4 971.7,513.8 978.1,514.1 984.5,518.4 987.3,516.6 991.6,516.8 998.0,514.3 1005.0,515.0 1009.3,515.3 1011.4,516.1 1017.1,513.8 1024.2,514.4 1031.9,513.8 1038.3,519.9 1044.7,515.2 1049.6,514.8 1056.7,513.7 1059.6,513.9 1065.2,518.1 1068.1,516.5 1073.0,515.0 1075.8,513.7 1081.5,511.9"/>
<polyline fill="none" stroke="#cf9c55" stroke-width="1" points="157.5,530.9 160.0,531.2 163.3,531.7 166.0,530.7 169.3,528.6 171.3,529.0 176.0,531.5 180.7,533.7 184.0,533.0 186.7,533.3 191.3,528.8 194.0,531.3 197.3,530.4 201.3,530.8 205.3,530.0 207.3,530.2 210.7,529.0 214.7,527.7 220.0,527.5 223.3,528.3 227.3,532.2 230.0,531.5 233.3,528.3 237.3,527.5 241.3,530.2 246.0,528.9 251.3,532.5 256.7,530.8 260.7,526.8 264.7,529.4 269.3,530.9 274.7,531.9 278.7,531.5 284.7,525.8 291.3,532.6 297.3,529.2 302.0,532.4 305.0,528.0 308.3,525.3 313.7,527.4 319.7,532.1 323.7,526.6 327.7,525.5 333.7,524.3 339.7,524.0 345.0,530.3 351.0,526.2 353.7,525.8 358.3,526.5 363.7,523.3 367.7,524.2 370.3,526.7 377.0,528.1 381.0,525.2 385.7,522.5 390.3,524.5 396.3,531.9 399.7,528.4 404.3,527.5 407.7,523.1 411.7,522.5 415.7,524.2 419.0,522.0 423.7,526.6 428.3,522.4 433.0,522.0 436.3,521.2 441.0,524.9 443.7,525.2 447.7,528.0 455.0,520.9 459.7,522.4 464.7,520.8 468.0,522.2 472.7,526.1 477.3,521.2 482.0,520.0 484.7,520.3 488.0,522.6 492.0,520.7 495.3,521.6 500.7,523.9 505.3,521.4 509.3,520.5 514.0,521.2 518.7,519.5 524.0,524.8 529.3,521.7 534.7,522.2 541.3,519.2 545.3,521.3 549.3,526.8 556.0,519.9 562.7,519.0 566.7,519.9 570.7,522.8 578.0,527.6 586.0,519.5 590.7,518.7 594.7,519.0 600.7,526.1 605.3,521.5 611.3,520.3 616.7,518.6 619.7,518.8 623.7,525.0 627.0,526.6 633.7,524.2 639.7,518.9 643.7,518.5 646.3,519.0 650.3,524.7 652.3,524.1 655.0,521.5 660.3,518.4 663.7,518.8 669.0,518.5 675.0,527.2 679.7,524.1 686.3,518.3 689.7,518.6 692.3,518.4 698.3,523.7 701.7,521.5 705.7,520.5 711.0,518.3 716.3,518.5 721.7,523.3 724.3,523.4 727.7,521.6 729.7,522.5 732.3,523.0 738.3,518.2 745.0,520.8 747.7,520.9 752.3,519.0 759.0,522.2 763.0,519.9 767.0,520.3 770.3,523.9 775.3,518.6 778.0,518.5 783.3,519.9 787.3,518.2 793.3,519.9 797.3,519.2 802.0,518.4 808.7,520.6 813.3,518.7 819.3,523.0 824.7,518.8 830.0,518.2 838.0,518.3 842.7,519.1 848.7,520.3 857.3,518.1 864.0,522.4 869.3,518.5 876.0,520.0 880.7,520.1 886.0,520.0 894.0,518.1 899.3,518.7 906.0,518.5 911.3,519.9 919.3,518.2 924.0,518.2 928.0,520.0 932.1,522.5 937.7,520.2 946.2,520.4 951.2,518.2 957.6,521.0 963.2,520.1 966.1,518.9 971.7,518.1 978.1,518.6 984.5,524.0 987.3,521.8 991.6,521.9 998.0,518.8 1005.0,519.6 1009.3,520.1 1011.4,521.1 1017.1,518.1 1024.2,518.8 1031.9,518.1 1038.3,525.9 1044.7,519.9 1049.6,519.5 1056.7,517.9 1059.6,518.2 1065.2,523.5 1068.1,521.5 1073.0,519.5 1075.8,517.9 1081.5,515.4"/>
<polyline fill="none" stroke="#cb9050" stroke-width="1" points="157.5,536.0 160.0,536.3 163.3,536.9 166.0,535.8 169.3,533.6 171.3,534.0 176.0,536.7 180.7,539.1 184.0,538.3 186.7,538.6 191.3,533.7 194.0,536.4 197.3,535.5 201.3,536.0 205.3,535.0 207.3,535.2 210.7,533.9 214.7,532.6 220.0,532.3 223.3,533.2 227.3,537.3 230.0,536.7 233.3,533.2 237.3,532.3 241.3,535.2 246.0,533.8 251.3,537.7 256.7,535.9 260.7,531.5 264.7,534.3 269.3,535.9 274.7,536.9 278.7,536.6 284.7,530.4 291.3,537.7 297.3,534.1 302.0,537.5 305.0,532.7 308.3,529.8 313.7,532.1 319.7,537.2 323.7,531.2 327.7,530.0 333.7,528.7 339.7,528.3 345.0,535.2 351.0,530.8 353.7,530.3 358.3,531.1 363.7,527.5 367.7,528.5 370.3,531.2 377.0,532.8 381.0,529.6 385.7,526.7 390.3,528.8 396.3,536.9 399.7,533.1 404.3,532.1 407.7,527.2 411.7,526.6 415.7,528.5 419.0,526.0 423.7,531.1 428.3,526.5 433.0,526.0 436.3,525.1 441.0,529.2 443.7,529.6 447.7,532.6 455.0,524.8 459.7,526.4 464.7,524.7 468.0,526.2 472.7,530.5 477.3,525.1 482.0,523.8 484.7,524.1 488.0,526.6 492.0,524.5 495.3,525.5 500.7,528.1 505.3,525.3 509.3,524.3 514.0,525.1 518.7,523.2 524.0,529.2 529.3,525.6 534.7,526.2 541.3,522.8 545.3,525.2 549.3,531.4 556.0,523.6 562.7,522.6 566.7,523.6 570.7,526.9 578.0,532.4 586.0,523.1 590.7,522.2 594.7,522.6 600.7,530.6 605.3,525.4 611.3,524.1 616.7,522.2 619.7,522.4 623.7,529.5 627.0,531.3 633.7,528.6 639.7,522.5 643.7,522.0 646.3,522.6 650.3,529.1 652.3,528.5 655.0,525.4 660.3,522.0 663.7,522.3 669.0,522.0 675.0,532.0 679.7,528.5 686.3,521.8 689.7,522.2 692.3,521.9 698.3,528.0 701.7,525.5 705.7,524.3 711.0,521.9 716.3,522.1 721.7,527.5 724.3,527.6 727.7,525.6 729.7,526.6 732.3,527.2 738.3,521.7 745.0,524.7 747.7,524.8 752.3,522.6 759.0,526.3 763.0,523.6 767.0,524.1 770.3,528.2 775.3,522.1 778.0,522.0 783.3,523.7 787.3,521.7 793.3,523.6 797.3,522.8 802.0,521.9 808.7,524.5 813.3,522.2 819.3,527.3 824.7,522.4 830.0,521.6 838.0,521.8 842.7,522.7 848.7,524.2 857.3,521.6 864.0,526.6 869.3,522.0 876.0,523.8 880.7,523.8 886.0,523.7 894.0,521.6 899.3,522.3 906.0,522.1 911.3,523.7 919.3,521.7 924.0,521.7 928.0,523.8 932.1,526.7 937.7,524.0 946.2,524.2 951.2,521.7 957.6,524.9 963.2,523.9 966.1,522.5 971.7,521.6 978.1,522.1 984.5,528.4 987.3,525.8 991.6,526.0 998.0,522.3 1005.0,523.3 1009.3,523.9 1011.4,525.1 1017.1,521.6 1024.2,522.4 1031.9,521.6 1038.3,530.6 1044.7,523.7 1049.6,523.1 1056.7,521.4 1059.6,521.7 1065.2,527.8 1068.1,525.5 1073.0,523.2 1075.8,521.2 1081.5,518.2"/>
<polyline fill="none" stroke="#c6844b" stroke-width="1" points="157.5,543.8 160.0,544.2 163.3,544.8 166.0,543.6 169.3,541.3 171.3,541.8 176.0,544.5 180.7,547.0 184.0,546.2 186.7,546.5 191.3,541.5 194.0,544.3 197.3,543.3 201.3,543.8 205.3,542.8 207.3,543.0 210.7,541.7 214.7,540.3 220.0,540.0 223.3,540.9 227.3,545.2 230.0,544.5 233.3,540.8 237.3,539.9 241.3,542.9 246.0,541.5 251.3,545.5 256.7,543.6 260.7,539.0 264.7,542.0 269.3,543.6 274.7,544.7 278.7,544.3 284.7,537.8 291.3,545.6 297.3,541.7 302.0,545.3 305.0,540.2 308.3,537.1 313.7,539.6 319.7,545.0 323.7,538.5 327.7,537.3 333.7,535.9 339.7,535.5 345.0,543.0 351.0,538.1 353.7,537.6 358.3,538.5 363.7,534.5 367.7,535.6 370.3,538.6 377.0,540.4 381.0,536.9 385.7,533.6 390.3,536.0 396.3,545.0 399.7,540.8 404.3,539.6 407.7,534.2 411.7,533.5 415.7,535.6 419.0,532.8 423.7,538.5 428.3,533.4 433.0,532.8 436.3,531.8 441.0,536.4 443.7,536.8 447.7,540.1 455.0,531.4 459.7,533.2 464.7,531.3 468.0,533.0 472.7,537.8 477.3,531.7 482.0,530.3 484.7,530.6 488.0,533.5 492.0,531.0 495.3,532.2 500.7,535.1 505.3,532.0 509.3,530.9 514.0,531.7 518.7,529.6 524.0,536.3 529.3,532.3 534.7,533.0 541.3,529.1 545.3,531.8 549.3,538.9 556.0,530.0 562.7,528.9 566.7,530.0 570.7,533.8 578.0,540.0 586.0,529.5 590.7,528.5 594.7,528.9 600.7,538.0 605.3,532.1 611.3,530.6 616.7,528.4 619.7,528.6 623.7,536.7 627.0,538.8 633.7,535.7 639.7,528.7 643.7,528.2 646.3,528.9 650.3,536.3 652.3,535.6 655.0,532.1 660.3,528.2 663.7,528.6 669.0,528.2 675.0,539.6 679.7,535.6 686.3,528.0 689.7,528.4 692.3,528.0 698.3,535.0 701.7,532.2 705.7,530.8 711.0,528.0 716.3,528.3 721.7,534.5 724.3,534.6 727.7,532.4 729.7,533.5 732.3,534.2 738.3,527.8 745.0,531.3 747.7,531.4 752.3,528.9 759.0,533.1 763.0,530.0 767.0,530.6 770.3,535.3 775.3,528.3 778.0,528.2 783.3,530.1 787.3,527.9 793.3,530.1 797.3,529.1 802.0,528.1 808.7,531.0 813.3,528.4 819.3,534.2 824.7,528.6 830.0,527.8 838.0,528.0 842.7,529.0 848.7,530.7 857.3,527.8 864.0,533.4 869.3,528.2 876.0,530.2 880.7,530.3 886.0,530.2 894.0,527.8 899.3,528.5 906.0,528.3 911.3,530.1 919.3,527.9 924.0,527.9 928.0,530.2 932.1,533.6 937.7,530.5 946.2,530.7 951.2,527.8 957.6,531.6 963.2,530.3 966.1,528.8 971.7,527.8 978.1,528.3 984.5,535.5 987.3,532.6 991.6,532.7 998.0,528.6 1005.0,529.7 1009.3,530.3 1011.4,531.7 1017.1,527.7 1024.2,528.7 1031.9,527.7 1038.3,537.9 1044.7,530.1 1049.6,529.4 1056.7,527.4 1059.6,527.7 1065.2,534.7 1068.1,532.1 1073.0,529.3 1075.8,526.9 1081.5,523.3"/>
<polyline fill="none" stroke="#c17847" stroke-width="1" points="157.5,554.6 160.0,554.9 163.3,555.6 166.0,554.3 169.3,551.8 171.3,552.4 176.0,555.2 180.7,557.8 184.0,556.9 186.7,557.3 191.3,552.0 194.0,555.1 197.3,554.0 201.3,554.5 205.3,553.4 207.3,553.7 210.7,552.3 214.7,550.8 220.0,550.5 223.3,551.5 227.3,556.0 230.0,555.2 233.3,551.4 237.3,550.5 241.3,553.6 246.0,552.0 251.3,556.1 256.7,554.1 260.7,549.2 264.7,552.4 269.3,554.0 274.7,555.2 278.7,554.8 284.7,548.0 291.3,556.0 297.3,551.9 302.0,555.8 305.0,550.4 308.3,547.1 313.7,549.8 319.7,555.5 323.7,548.7 327.7,547.5 333.7,546.0 339.7,545.5 345.0,553.3 351.0,548.3 353.7,547.8 358.3,548.7 363.7,544.5 367.7,545.6 370.3,548.8 377.0,550.5 381.0,546.8 385.7,543.3 390.3,545.9 396.3,555.2 399.7,550.9 404.3,549.8 407.7,544.1 411.7,543.4 415.7,545.6 419.0,542.6 423.7,548.6 428.3,543.2 433.0,542.7 436.3,541.5 441.0,546.4 443.7,546.8 447.7,550.4 455.0,541.2 459.7,543.2 464.7,541.1 468.0,543.0 472.7,548.1 477.3,541.6 482.0,540.0 484.7,540.4 488.0,543.5 492.0,540.8 495.3,542.2 500.7,545.3 505.3,541.9 509.3,540.7 514.0,541.7 518.7,539.3 524.0,546.6 529.3,542.2 534.7,543.0 541.3,538.7 545.3,541.7 549.3,549.4 556.0,539.8 562.7,538.5 566.7,539.7 570.7,543.9 578.0,550.6 586.0,539.0 590.7,537.9 594.7,538.4 600.7,548.5 605.3,542.1 611.3,540.5 616.7,538.0 619.7,538.3 623.7,547.2 627.0,549.5 633.7,546.0 639.7,538.3 643.7,537.7 646.3,538.5 650.3,546.7 652.3,545.9 655.0,542.0 660.3,537.7 663.7,538.2 669.0,537.8 675.0,550.4 679.7,545.9 686.3,537.5 689.7,538.1 692.3,537.6 698.3,545.4 701.7,542.3 705.7,540.7 711.0,537.6 716.3,537.9 721.7,544.8 724.3,544.9 727.7,542.3 729.7,543.7 732.3,544.4 738.3,537.3 745.0,541.2 747.7,541.4 752.3,538.6 759.0,543.4 763.0,539.9 767.0,540.5 770.3,545.8 775.3,538.0 778.0,537.9 783.3,540.0 787.3,537.5 793.3,540.0 797.3,539.0 802.0,537.8 808.7,541.1 813.3,538.2 819.3,544.6 824.7,538.5 830.0,537.5 838.0,537.8 842.7,538.9 848.7,540.7 857.3,537.4 864.0,543.7 869.3,538.0 876.0,540.3 880.7,540.4 886.0,540.3 894.0,537.5 899.3,538.4 906.0,538.1 911.3,540.2 919.3,537.7 924.0,537.6 928.0,540.3 932.1,544.0 937.7,540.6 946.2,540.8 951.2,537.5 957.6,541.7 963.2,540.4 966.1,538.6 971.7,537.4 978.1,538.1 984.5,546.1 987.3,542.8 991.6,543.0 998.0,538.4 1005.0,539.7 1009.3,540.2 1011.4,541.9 1017.1,537.4 1024.2,538.5 1031.9,537.4 1038.3,548.7 1044.7,540.0 1049.6,539.3 1056.7,536.9 1059.6,537.2 1065.2,545.0 1068.1,541.9 1073.0,538.8 1075.8,535.9 1081.5,531.4"/>
<polyline fill="none" stroke="#bf6b40" stroke-width="1" points="157.5,571.5 160.0,572.4 163.3,573.9 166.0,572.6 169.3,569.3 171.3,571.7 176.0,574.5 180.7,577.7 184.0,576.7 186.7,577.7 191.3,571.0 194.0,576.7 197.3,574.5 201.3,575.5 205.3,574.1 207.3,575.2 210.7,573.3 214.7,571.8 220.0,571.5 223.3,572.9 227.3,578.1 230.0,577.5 233.3,572.8 237.3,572.2 241.3,576.0 246.0,574.0 251.3,577.9 256.7,575.8 260.7,569.7 264.7,573.9 269.3,575.6 274.7,576.9 278.7,576.6 284.7,569.4 291.3,577.9 297.3,573.8 302.0,578.8 305.0,571.8 308.3,568.4 313.7,572.2 319.7,578.6 323.7,571.6 327.7,570.7 333.7,569.4 339.7,569.0 345.0,577.6 351.0,572.7 353.7,572.0 358.3,573.2 363.7,568.6 367.7,568.6 370.3,574.4 377.0,574.8 381.0,570.6 385.7,566.4 390.3,569.8 396.3,580.0 399.7,575.1 404.3,575.4 407.7,568.3 411.7,568.2 415.7,571.3 419.0,566.9 423.7,574.2 428.3,568.2 433.0,567.9 436.3,566.0 441.0,571.9 443.7,572.5 447.7,576.5 455.0,567.1 459.7,569.6 464.7,566.9 468.0,569.6 472.7,574.9 477.3,567.7 482.0,565.8 484.7,566.1 488.0,570.6 492.0,566.9 495.3,569.1 500.7,572.5 505.3,569.0 509.3,567.7 514.0,568.9 518.7,565.9 524.0,573.9 529.3,569.1 534.7,569.7 541.3,564.6 545.3,568.1 549.3,576.7 556.0,566.6 562.7,565.1 566.7,566.5 570.7,571.2 578.0,577.2 586.0,564.9 590.7,563.2 594.7,564.2 600.7,575.2 605.3,568.8 611.3,567.7 616.7,565.0 619.7,565.0 623.7,575.0 627.0,577.3 633.7,573.3 639.7,564.9 643.7,563.8 646.3,564.9 650.3,574.3 652.3,573.5 655.0,568.0 660.3,564.2 663.7,565.1 669.0,564.6 675.0,578.0 679.7,573.6 686.3,564.5 689.7,565.5 692.3,564.5 698.3,573.5 701.7,569.7 705.7,568.4 711.0,564.9 716.3,565.2 721.7,572.3 724.3,573.0 727.7,568.4 729.7,572.1 732.3,571.8 738.3,563.9 745.0,568.4 747.7,568.9 752.3,565.9 759.0,571.7 763.0,567.9 767.0,568.1 770.3,575.0 775.3,565.8 778.0,565.5 783.3,568.1 787.3,564.7 793.3,568.1 797.3,566.9 802.0,565.6 808.7,569.8 813.3,566.5 819.3,573.6 824.7,567.0 830.0,565.8 838.0,566.2 842.7,567.5 848.7,569.4 857.3,565.3 864.0,572.5 869.3,566.3 876.0,569.2 880.7,569.4 886.0,569.3 894.0,566.0 899.3,567.2 906.0,566.9 911.3,569.3 919.3,566.3 924.0,566.0 928.0,569.3 932.1,573.3 937.7,569.5 946.2,569.6 951.2,565.7 957.6,570.5 963.2,569.4 966.1,566.4 971.7,565.3 978.1,566.4 984.5,576.0 987.3,570.9 991.6,572.3 998.0,567.2 1005.0,568.3 1009.3,567.7 1011.4,571.7 1017.1,565.3 1024.2,566.8 1031.9,565.3 1038.3,577.4 1044.7,568.6 1049.6,567.8 1056.7,564.9 1059.6,565.7 1065.2,574.6 1068.1,570.4 1073.0,568.6 1075.8,564.8 1081.5,561.3"/>
<polyline fill="none" stroke="#bb5f3b" stroke-width="1" points="157.5,622.8 160.0,623.3 163.3,624.3 166.0,622.7 169.3,618.7 171.3,621.3 176.0,624.0 180.7,627.0 184.0,626.0 186.7,627.0 191.3,620.0 194.0,626.0 197.3,623.7 201.3,624.7 205.3,623.3 207.3,624.4 210.7,622.4 214.7,620.7 220.0,620.3 223.3,622.0 227.3,627.3 230.0,626.7 233.3,622.0 237.3,621.3 241.3,625.3 246.0,623.0 251.3,626.4 256.7,624.0 260.7,617.3 264.7,622.0 269.3,623.7 274.7,625.0 278.7,624.7 284.7,617.3 291.3,626.0 297.3,622.0 302.0,626.7 305.0,620.0 308.3,616.3 313.7,620.7 319.7,627.3 323.7,620.7 327.7,620.0 333.7,618.7 339.7,618.4 345.0,627.3 351.0,622.7 353.7,622.0 358.3,623.3 363.7,618.4 367.7,618.4 370.3,624.3 377.0,624.3 381.0,620.0 385.7,615.3 390.3,619.3 396.3,629.3 399.7,625.0 404.3,625.6 407.7,618.7 411.7,618.7 415.7,622.0 419.0,617.3 423.7,624.7 428.3,618.7 433.0,618.4 436.3,616.3 441.0,622.7 443.7,623.3 447.7,627.3 455.0,618.4 459.7,621.3 464.7,618.4 468.0,621.3 472.7,626.4 477.3,619.3 482.0,617.1 484.7,617.6 488.0,622.4 492.0,618.7 495.3,621.1 500.7,624.7 505.3,621.3 509.3,620.0 514.0,621.3 518.7,618.0 524.0,626.0 529.3,621.1 534.7,621.6 541.3,616.0 545.3,620.0 549.3,628.3 556.0,618.7 562.7,617.1 566.7,618.7 570.7,623.3 578.0,628.3 586.0,616.0 590.7,614.0 594.7,615.3 600.7,626.4 605.3,620.7 611.3,620.0 616.7,617.3 619.7,617.3 623.7,627.3 627.0,629.3 633.7,625.3 639.7,616.7 643.7,615.3 646.3,616.7 650.3,626.0 652.3,625.3 655.0,620.0 660.3,616.0 663.7,617.1 669.0,616.7 675.0,630.0 679.7,626.0 686.3,616.7 689.7,618.0 692.3,616.7 698.3,626.0 701.7,622.4 705.7,621.1 711.0,617.3 716.3,617.6 721.7,624.7 724.3,625.3 727.7,620.7 729.7,624.3 732.3,624.0 738.3,615.7 745.0,620.7 747.7,621.3 752.3,618.4 759.0,624.7 763.0,621.1 767.0,621.3 770.3,628.0 775.3,618.7 778.0,618.4 783.3,621.1 787.3,617.3 793.3,621.1 797.3,620.0 802.0,618.7 808.7,623.3 813.3,620.0 819.3,627.3 824.7,620.7 830.0,619.3 838.0,619.7 842.7,621.1 848.7,623.0 857.3,618.4 864.0,626.0 869.3,619.7 876.0,623.0 880.7,623.3 886.0,623.3 894.0,619.7 899.3,621.1 906.0,620.7 911.3,623.3 919.3,620.0 924.0,619.7 928.0,623.3 932.1,627.2 937.7,623.4 946.2,623.4 951.2,619.1 957.6,624.1 963.2,622.9 966.1,619.8 971.7,618.4 978.1,619.8 984.5,629.5 987.3,624.8 991.6,626.2 998.0,621.0 1005.0,622.0 1009.3,621.2 1011.4,625.2 1017.1,618.4 1024.2,620.1 1031.9,618.4 1038.3,630.5 1044.7,622.0 1049.6,621.2 1056.7,618.1 1059.6,619.1 1065.2,628.0 1068.1,624.1 1073.0,622.7 1075.8,619.1 1081.5,616.3"/>
<polyline fill="none" stroke="#b95b3a" stroke-width="1" points="157.5,676.4 160.0,677.5 163.3,679.0 166.0,678.4 169.3,675.9 171.3,678.2 176.0,680.8 180.7,683.5 184.0,683.0 186.7,683.9 191.3,679.0 194.0,683.6 197.3,682.1 201.3,683.0 205.3,682.1 207.3,683.0 210.7,681.6 214.7,680.5 220.0,680.4 223.3,681.7 227.3,685.7 230.0,685.4 233.3,682.0 237.3,681.5 241.3,684.6 246.0,683.0 251.3,685.6 256.7,683.9 260.7,679.0 264.7,682.5 269.3,683.9 274.7,684.9 278.7,684.8 284.7,679.4 291.3,685.9 297.3,683.0 302.0,686.5 305.0,681.6 308.3,678.9 313.7,682.2 319.7,687.2 323.7,682.3 327.7,681.9 333.7,681.0 339.7,680.8 345.0,687.4 351.0,684.0 353.7,683.5 358.3,684.5 363.7,681.0 367.7,681.0 370.3,685.4 377.0,685.4 381.0,682.3 385.7,678.8 390.3,681.8 396.3,689.2 399.7,686.0 404.3,686.5 407.7,681.4 411.7,681.5 415.7,683.9 419.0,680.5 423.7,685.9 428.3,681.5 433.0,681.3 436.3,679.8 441.0,684.5 443.7,685.0 447.7,687.9 455.0,681.4 459.7,683.6 464.7,681.4 468.0,683.6 472.7,687.3 477.3,682.1 482.0,680.5 484.7,680.9 488.0,684.4 492.0,681.7 495.3,683.5 500.7,686.2 505.3,683.7 509.3,682.7 514.0,683.7 518.7,681.3 524.0,687.2 529.3,683.6 534.7,683.9 541.3,679.9 545.3,682.8 549.3,688.9 556.0,681.9 562.7,680.7 566.7,681.9 570.7,685.2 578.0,688.9 586.0,679.9 590.7,678.4 594.7,679.4 600.7,687.6 605.3,683.4 611.3,682.9 616.7,680.9 619.7,680.9 623.7,688.2 627.0,689.7 633.7,686.8 639.7,680.5 643.7,679.4 646.3,680.5 650.3,687.3 652.3,686.8 655.0,682.9 660.3,680.0 663.7,680.8 669.0,680.5 675.0,690.2 679.7,687.3 686.3,680.5 689.7,681.5 692.3,680.5 698.3,687.3 701.7,684.7 705.7,683.7 711.0,680.9 716.3,681.2 721.7,686.4 724.3,686.8 727.7,683.4 729.7,686.1 732.3,685.9 738.3,679.8 745.0,683.5 747.7,683.9 752.3,681.8 759.0,686.4 763.0,683.7 767.0,683.9 770.3,688.8 775.3,682.0 778.0,681.8 783.3,683.8 787.3,681.0 793.3,683.8 797.3,683.0 802.0,682.0 808.7,685.4 813.3,683.0 819.3,688.3 824.7,683.5 830.0,682.4 838.0,682.7 842.7,683.8 848.7,685.2 857.3,681.8 864.0,687.4 869.3,682.7 876.0,685.2 880.7,685.4 886.0,685.4 894.0,682.7 899.3,683.8 906.0,683.5 911.3,685.4 919.3,683.0 924.0,682.7 928.0,685.4 932.1,688.2 937.7,685.5 946.2,685.5 951.2,682.3 957.6,686.0 963.2,685.1 966.1,682.8 971.7,681.8 978.1,682.8 984.5,689.9 987.3,686.5 991.6,687.5 998.0,683.7 1005.0,684.4 1009.3,683.8 1011.4,686.8 1017.1,681.8 1024.2,683.0 1031.9,681.7 1038.3,690.6 1044.7,684.3 1049.6,683.7 1056.7,681.3 1059.6,681.9 1065.2,688.3 1068.1,685.3 1073.0,684.0 1075.8,681.2 1081.5,678.6"/>
<polyline fill="none" stroke="#b54f35" stroke-width="1" points="157.5,724.2 160.0,725.8 163.3,727.7 166.0,727.6 169.3,725.9 171.3,728.1 176.0,730.7 180.7,733.4 184.0,733.2 186.7,734.1 191.3,730.1 194.0,734.1 197.3,732.9 201.3,733.8 205.3,733.2 207.3,734.0 210.7,732.9 214.7,732.0 220.0,732.0 223.3,733.2 227.3,736.6 230.0,736.3 233.3,733.5 237.3,733.2 241.3,735.8 246.0,734.5 251.3,736.8 256.7,735.4 260.7,731.4 264.7,734.4 269.3,735.5 274.7,736.5 278.7,736.4 284.7,731.9 291.3,737.4 297.3,735.1 302.0,738.0 305.0,734.0 308.3,731.7 313.7,734.5 319.7,738.6 323.7,734.7 327.7,734.3 333.7,733.6 339.7,733.5 345.0,739.0 351.0,736.2 353.7,735.8 358.3,736.7 363.7,733.7 367.7,733.8 370.3,737.4 377.0,737.5 381.0,734.9 385.7,732.1 390.3,734.5 396.3,740.6 399.7,738.1 404.3,738.5 407.7,734.3 411.7,734.3 415.7,736.3 419.0,733.5 423.7,738.0 428.3,734.4 433.0,734.3 436.3,733.0 441.0,736.9 443.7,737.3 447.7,739.7 455.0,734.4 459.7,736.2 464.7,734.4 468.0,736.2 472.7,739.3 477.3,735.0 482.0,733.7 484.7,734.0 488.0,736.9 492.0,734.7 495.3,736.2 500.7,738.4 505.3,736.3 509.3,735.6 514.0,736.4 518.7,734.4 524.0,739.2 529.3,736.3 534.7,736.6 541.3,733.2 545.3,735.6 549.3,740.7 556.0,734.9 562.7,733.9 566.7,734.9 570.7,737.7 578.0,740.7 586.0,733.3 590.7,732.1 594.7,732.9 600.7,739.6 605.3,736.2 611.3,735.8 616.7,734.1 619.7,734.1 623.7,740.2 627.0,741.4 633.7,739.0 639.7,733.8 643.7,733.0 646.3,733.8 650.3,739.4 652.3,739.0 655.0,735.8 660.3,733.4 663.7,734.1 669.0,733.8 675.0,741.8 679.7,739.4 686.3,733.8 689.7,734.6 692.3,733.8 698.3,739.4 701.7,737.3 705.7,736.5 711.0,734.2 716.3,734.4 721.7,738.7 724.3,739.0 727.7,736.3 729.7,738.4 732.3,738.3 738.3,733.3 745.0,736.3 747.7,736.6 752.3,734.9 759.0,738.7 763.0,736.5 767.0,736.6 770.3,740.7 775.3,735.1 778.0,734.9 783.3,736.5 787.3,734.2 793.3,736.5 797.3,735.9 802.0,735.1 808.7,737.9 813.3,735.9 819.3,740.3 824.7,736.3 830.0,735.5 838.0,735.7 842.7,736.5 848.7,737.7 857.3,734.9 864.0,739.5 869.3,735.7 876.0,737.7 880.7,737.9 886.0,737.9 894.0,735.7 899.3,736.6 906.0,736.3 911.3,737.9 919.3,735.9 924.0,735.7 928.0,737.9 932.1,740.2 937.7,737.9 946.2,737.9 951.2,735.4 957.6,738.4 963.2,737.6 966.1,735.8 971.7,734.9 978.1,735.8 984.5,741.6 987.3,738.8 991.6,739.6 998.0,736.5 1005.0,737.1 1009.3,736.6 1011.4,739.0 1017.1,734.9 1024.2,735.9 1031.9,734.9 1038.3,742.1 1044.7,737.0 1049.6,736.4 1056.7,734.4 1059.6,735.0 1065.2,740.2 1068.1,737.7 1073.0,736.6 1075.8,734.2 1081.5,732.0"/>
<polyline fill="none" stroke="#bf3826" stroke-width="1" points="157.5,767.6 160.0,768.1 163.3,768.8 166.0,768.4 169.3,766.9 171.3,768.1 176.0,769.5 180.7,771.0 184.0,770.6 186.7,771.1 191.3,768.3 194.0,770.9 197.3,770.0 201.3,770.4 205.3,769.9 207.3,770.4 210.7,769.6 214.7,769.0 220.0,768.9 223.3,769.6 227.3,771.8 230.0,771.6 233.3,769.7 237.3,769.4 241.3,771.1 246.0,770.2 251.3,771.6 256.7,770.7 260.7,768.0 264.7,769.9 269.3,770.6 274.7,771.2 278.7,771.1 284.7,768.1 291.3,771.7 297.3,770.1 302.0,772.0 305.0,769.3 308.3,767.8 313.7,769.6 319.7,772.3 323.7,769.7 327.7,769.4 333.7,768.9 339.7,768.8 345.0,772.4 351.0,770.6 353.7,770.3 358.3,770.8 363.7,768.9 367.7,768.9 370.3,771.3 377.0,771.3 381.0,769.6 385.7,767.7 390.3,769.3 396.3,773.4 399.7,771.6 404.3,771.9 407.7,769.1 411.7,769.1 415.7,770.4 419.0,768.6 423.7,771.5 428.3,769.1 433.0,769.0 436.3,768.2 441.0,770.8 443.7,771.0 447.7,772.6 455.0,769.1 459.7,770.2 464.7,769.1 468.0,770.2 472.7,772.3 477.3,769.4 482.0,768.6 484.7,768.8 488.0,770.7 492.0,769.2 495.3,770.2 500.7,771.6 505.3,770.3 509.3,769.8 514.0,770.3 518.7,769.0 524.0,772.2 529.3,770.2 534.7,770.4 541.3,768.2 545.3,769.8 549.3,773.1 556.0,769.3 562.7,768.6 566.7,769.3 570.7,771.1 578.0,773.1 586.0,768.2 590.7,767.4 594.7,767.9 600.7,772.4 605.3,770.1 611.3,769.8 616.7,768.7 619.7,768.7 623.7,772.7 627.0,773.5 633.7,771.9 639.7,768.5 643.7,767.9 646.3,768.5 650.3,772.2 652.3,771.9 655.0,769.8 660.3,768.2 663.7,768.7 669.0,768.5 675.0,773.8 679.7,772.2 686.3,768.5 689.7,769.0 692.3,768.5 698.3,772.2 701.7,770.8 705.7,770.3 711.0,768.8 716.3,768.9 721.7,771.7 724.3,772.0 727.7,770.1 729.7,771.6 732.3,771.4 738.3,768.1 745.0,770.1 747.7,770.4 752.3,769.2 759.0,771.7 763.0,770.3 767.0,770.4 770.3,773.0 775.3,769.3 778.0,769.2 783.3,770.3 787.3,768.8 793.3,770.3 797.3,769.8 802.0,769.3 808.7,771.2 813.3,769.8 819.3,772.8 824.7,770.1 830.0,769.6 838.0,769.7 842.7,770.3 848.7,771.0 857.3,769.2 864.0,772.2 869.3,769.7 876.0,771.0 880.7,771.2 886.0,771.2 894.0,769.7 899.3,770.3 906.0,770.1 911.3,771.2 919.3,769.9 924.0,769.7 928.0,771.2 932.1,772.7 937.7,771.2 946.2,771.2 951.2,769.5 957.6,771.5 963.2,771.0 966.1,769.8 971.7,769.2 978.1,769.8 984.5,773.6 987.3,771.8 991.6,772.3 998.0,770.2 1005.0,770.6 1009.3,770.3 1011.4,771.9 1017.1,769.2 1024.2,769.9 1031.9,769.2 1038.3,774.0 1044.7,770.6 1049.6,770.2 1056.7,768.9 1059.6,769.2 1065.2,772.8 1068.1,771.1 1073.0,770.4 1075.8,768.7"/>
<polyline fill="none" stroke="#ba2721" stroke-width="1" points="157.5,788.1 160.0,788.3 163.3,788.6 166.0,788.3 169.3,787.6 171.3,788.1 176.0,788.7 180.7,789.3 184.0,789.1 186.7,789.3 191.3,788.1 194.0,789.2 197.3,788.8 201.3,789.0 205.3,788.7 207.3,788.9 210.7,788.6 214.7,788.3 220.0,788.3 223.3,788.6 227.3,789.5 230.0,789.4 233.3,788.6 237.3,788.5 241.3,789.2 246.0,788.8 251.3,789.4 256.7,789.0 260.7,787.9 264.7,788.7 269.3,789.0 274.7,789.2 278.7,789.1 284.7,787.9 291.3,789.4 297.3,788.7 302.0,789.5 305.0,788.4 308.3,787.8 313.7,788.5 319.7,789.6 323.7,788.5 327.7,788.4 333.7,788.2 339.7,788.1 345.0,789.6 351.0,788.9 353.7,788.8 358.3,789.0 363.7,788.2 367.7,788.2 370.3,789.2 377.0,789.2 381.0,788.4 385.7,787.7 390.3,788.3 396.3,790.0 399.7,789.3 404.3,789.4 407.7,788.2 411.7,788.3 415.7,788.8 419.0,788.0 423.7,789.2 428.3,788.3 433.0,788.2 436.3,787.9 441.0,788.9 443.7,789.0 447.7,789.7 455.0,788.2 459.7,788.7 464.7,788.2 468.0,788.7 472.7,789.5 477.3,788.4 482.0,788.0 484.7,788.1 488.0,788.9 492.0,788.3 495.3,788.7 500.7,789.3 505.3,788.7 509.3,788.5 514.0,788.7 518.7,788.2 524.0,789.5 529.3,788.7 534.7,788.8 541.3,787.9 545.3,788.5 549.3,789.9 556.0,788.3 562.7,788.0 566.7,788.3 570.7,789.1 578.0,789.9 586.0,787.9 590.7,787.5 594.7,787.7 600.7,789.6 605.3,788.6 611.3,788.5 616.7,788.1 619.7,788.1 623.7,789.7 627.0,790.0 633.7,789.4 639.7,788.0 643.7,787.8 646.3,788.0 650.3,789.5 652.3,789.4 655.0,788.5 660.3,787.9 663.7,788.0 669.0,788.0 675.0,790.2 679.7,789.5 686.3,788.0 689.7,788.2 692.3,788.0 698.3,789.5 701.7,788.9 705.7,788.7 711.0,788.1 716.3,788.1 721.7,789.3 724.3,789.4 727.7,788.6 729.7,789.2 732.3,789.2 738.3,787.8 745.0,788.6 747.7,788.7 752.3,788.3 759.0,789.3 763.0,788.7 767.0,788.7 770.3,789.8 775.3,788.3 778.0,788.3 783.3,788.7 787.3,788.1 793.3,788.7 797.3,788.5 802.0,788.3 808.7,789.1 813.3,788.5 819.3,789.7 824.7,788.6 830.0,788.4 838.0,788.5 842.7,788.7 848.7,789.0 857.3,788.3 864.0,789.5 869.3,788.5 876.0,789.0 880.7,789.1 886.0,789.1 894.0,788.5 899.3,788.7 906.0,788.6 911.3,789.1 919.3,788.5 924.0,788.5 928.0,789.1 932.1,789.7 937.7,789.1 946.2,789.1 951.2,788.4 957.6,789.2 963.2,789.0 966.1,788.5 971.7,788.3 978.1,788.5 984.5,790.1 987.3,789.3 991.6,789.5 998.0,788.7 1005.0,788.8 1009.3,788.7 1011.4,789.4 1017.1,788.3 1024.2,788.5 1031.9,788.2 1038.3,790.2 1044.7,788.8 1049.6,788.7 1056.7,788.1 1059.6,788.3 1065.2,789.7 1068.1,789.0 1073.0,788.7 1075.8,788.1"/>
<polyline fill="none" stroke="#bd1111" stroke-width="1" points="157.5,794.6 160.0,794.6 163.3,794.7 166.0,794.6 169.3,794.5 171.3,794.6 176.0,794.6 180.7,794.7 184.0,794.7 186.7,794.7 191.3,794.6 194.0,794.7 197.3,794.6 201.3,794.6 205.3,794.6 207.3,794.6 210.7,794.6 214.7,794.6 220.0,794.6 223.3,794.6 227.3,794.7 230.0,794.7 233.3,794.6 237.3,794.6 241.3,794.6 246.0,794.6 251.3,794.7 256.7,794.6 260.7,794.5 264.7,794.6 269.3,794.6 274.7,794.6 278.7,794.6 284.7,794.5 291.3,794.7 297.3,794.6 302.0,794.7 305.0,794.5 308.3,794.5 313.7,794.5 319.7,794.7 323.7,794.5 327.7,794.5 333.7,794.5 339.7,794.5 345.0,794.7 351.0,794.6 353.7,794.6 358.3,794.6 363.7,794.5 367.7,794.5 370.3,794.6 377.0,794.6 381.0,794.5 385.7,794.4 390.3,794.5 396.3,794.7 399.7,794.6 404.3,794.6 407.7,794.5 411.7,794.5 415.7,794.6 419.0,794.5 423.7,794.6 428.3,794.5 433.0,794.5 436.3,794.5 441.0,794.6 443.7,794.6 447.7,794.7 455.0,794.5 459.7,794.6 464.7,794.5 468.0,794.6 472.7,794.7 477.3,794.5 482.0,794.5 484.7,794.5 488.0,794.6 492.0,794.5 495.3,794.5 500.7,794.6 505.3,794.6 509.3,794.5 514.0,794.6 518.7,794.5 524.0,794.6 529.3,794.5 534.7,794.6 541.3,794.4 545.3,794.5 549.3,794.7 556.0,794.5 562.7,794.5 566.7,794.5 570.7,794.6 578.0,794.7 586.0,794.4 590.7,794.4 594.7,794.4 600.7,794.7 605.3,794.5 611.3,794.5 616.7,794.5 619.7,794.5 623.7,794.7 627.0,794.7 633.7,794.6 639.7,794.5 643.7,794.4 646.3,794.5 650.3,794.6 652.3,794.6 655.0,794.5 660.3,794.4 663.7,794.5 669.0,794.5 675.0,794.7 679.7,794.6 686.3,794.5 689.7,794.5 692.3,794.5 698.3,794.6 701.7,794.6 705.7,794.5 711.0,794.5 716.3,794.5 721.7,794.6 724.3,794.6 727.7,794.5 729.7,794.6 732.3,794.6 738.3,794.4 745.0,794.5 747.7,794.6 752.3,794.5 759.0,794.6 763.0,794.5 767.0,794.6 770.3,794.7 775.3,794.5 778.0,794.5 783.3,794.5 787.3,794.5 793.3,794.5 797.3,794.5 802.0,794.5 808.7,794.6 813.3,794.5 819.3,794.7 824.7,794.5 830.0,794.5 838.0,794.5 842.7,794.5 848.7,794.6 857.3,794.5 864.0,794.6 869.3,794.5 876.0,794.6 880.7,794.6 886.0,794.6 894.0,794.5 899.3,794.5 906.0,794.5 911.3,794.6 919.3,794.5 924.0,794.5 928.0,794.6 932.1,794.7 937.7,794.6 946.2,794.6 951.2,794.5 957.6,794.6 963.2,794.6 966.1,794.5 971.7,794.5 978.1,794.5 984.5,794.7 987.3,794.6 991.6,794.6 998.0,794.5 1005.0,794.6 1009.3,794.5 1011.4,794.6 1017.1,794.5 1024.2,794.5 1031.9,794.5 1038.3,794.7 1044.7,794.6 1049.6,794.6 1056.7,794.5 1059.6,794.5 1065.2,794.7 1068.1,794.6 1073.0,794.6 1075.8,794.6 1081.5,794.5"/>
<polyline fill="none" stroke="#930d0d" stroke-width="1" points="157.5,796.0 160.0,796.0 163.3,796.0 166.0,796.0 169.3,796.0 171.3,796.0 176.0,796.0 180.7,796.0 184.0,796.0 186.7,796.0 191.3,796.0 194.0,796.0 197.3,796.0 201.3,796.0 205.3,796.0 207.3,796.0 210.7,796.0 214.7,796.0 220.0,796.0 223.3,796.0 227.3,796.0 230.0,796.0 233.3,796.0 237.3,796.0 241.3,796.0 246.0,796.0 251.3,796.0 256.7,796.0 260.7,796.0 264.7,796.0 269.3,796.0 274.7,796.0 278.7,796.0 284.7,796.0 291.3,796.0 297.3,796.0 302.0,796.0 305.0,796.0 308.3,796.0 313.7,796.0 319.7,796.0 323.7,796.0 327.7,796.0 333.7,796.0 339.7,796.0 345.0,796.0 351.0,796.0 353.7,796.0 358.3,796.0 363.7,796.0 367.7,796.0 370.3,796.0 377.0,796.0 381.0,796.0 385.7,796.0 390.3,796.0 396.3,796.0 399.7,796.0 404.3,796.0 407.7,796.0 411.7,796.0 415.7,796.0 419.0,796.0 423.7,796.0 428.3,796.0 433.0,796.0 436.3,796.0 441.0,796.0 443.7,796.0 447.7,796.0 455.0,796.0 459.7,796.0 464.7,796.0 468.0,796.0 472.7,796.0 477.3,796.0 482.0,796.0 484.7,796.0 488.0,796.0 492.0,796.0 495.3,796.0 500.7,796.0 505.3,796.0 509.3,796.0 514.0,796.0 518.7,796.0 524.0,796.0 529.3,796.0 534.7,796.0 541.3,796.0 545.3,796.0 549.3,796.0 556.0,796.0 562.7,796.0 566.7,796.0 570.7,796.0 578.0,796.0 586.0,796.0 590.7,796.0 594.7,796.0 600.7,796.0 605.3,796.0 611.3,796.0 616.7,796.0 619.7,796.0 623.7,796.0 627.0,796.0 633.7,796.0 639.7,796.0 643.7,796.0 646.3,796.0 650.3,796.0 652.3,796.0 655.0,796.0 660.3,796.0 663.7,796.0 669.0,796.0 675.0,796.0 679.7,796.0 686.3,796.0 689.7,796.0 692.3,796.0 698.3,796.0 701.7,796.0 705.7,796.0 711.0,796.0 716.3,796.0 721.7,796.0 724.3,796.0 727.7,796.0 729.7,796.0 732.3,796.0 738.3,796.0 745.0,796.0 747.7,796.0 752.3,796.0 759.0,796.0 763.0,796.0 767.0,796.0 770.3,796.0 775.3,796.0 778.0,796.0 783.3,796.0 787.3,796.0 793.3,796.0 797.3,796.0 802.0,796.0 808.7,796.0 813.3,796.0 819.3,796.0 824.7,796.0 830.0,796.0 838.0,796.0 842.7,796.0 848.7,796.0 857.3,796.0 864.0,796.0 869.3,796.0 876.0,796.0 880.7,796.0 886.0,796.0 894.0,796.0 899.3,796.0 906.0,796.0 911.3,796.0 919.3,796.0 924.0,796.0 928.0,796.0 932.1,796.0 937.7,796.0 946.2,796.0 951.2,796.0 957.6,796.0 963.2,796.0 966.1,796.0 971.7,796.0 978.1,796.0 984.5,796.0 987.3,796.0 991.6,796.0 998.0,796.0 1005.0,796.0 1009.3,796.0 1011.4,796.0 1017.1,796.0 1024.2,796.0 1031.9,796.0 1038.3,796.0 1044.7,796.0 1049.6,796.0 1056.7,796.0 1059.6,796.0 1065.2,796.0 1068.1,796.0 1073.0,796.0 1075.8,796.0 1081.5,796.0"/>
<polyline fill="none" stroke="#690a0a" stroke-width="1" points="157.5,797.0 160.0,797.0 163.3,797.0 166.0,797.0 169.3,797.0 171.3,797.0 176.0,797.0 180.7,797.0 184.0,797.0 186.7,797.0 191.3,797.0 194.0,797.0 197.3,797.0 201.3,797.0 205.3,797.0 207.3,797.0 210.7,797.0 214.7,797.0 220.0,797.0 223.3,797.0 227.3,797.0 230.0,797.0 233.3,797.0 237.3,797.0 241.3,797.0 246.0,797.0 251.3,797.0 256.7,797.0 260.7,797.0 264.7,797.0 269.3,797.0 274.7,797.0 278.7,797.0 284.7,797.0 291.3,797.0 297.3,797.0 302.0,797.0 305.0,797.0 308.3,797.0 313.7,797.0 319.7,797.0 323.7,797.0 327.7,797.0 333.7,797.0 339.7,797.0 345.0,797.0 351.0,797.0 353.7,797.0 358.3,797.0 363.7,797.0 367.7,797.0 370.3,797.0 377.0,797.0 381.0,797.0 385.7,797.0 390.3,797.0 396.3,797.0 399.7,797.0 404.3,797.0 407.7,797.0 411.7,797.0 415.7,797.0 419.0,797.0 423.7,797.0 428.3,797.0 433.0,797.0 436.3,797.0 441.0,797.0 443.7,797.0 447.7,797.0 455.0,797.0 459.7,797.0 464.7,797.0 468.0,797.0 472.7,797.0 477.3,797.0 482.0,797.0 484.7,797.0 488.0,797.0 492.0,797.0 495.3,797.0 500.7,797.0 505.3,797.0 509.3,797.0 514.0,797.0 518.7,797.0"/></g>
<g shape-rendering="crispEdges"><line x1="156.5" y1="502" x2="156.5" y2="800" stroke="#000" stroke-width="1"/>
<line x1="156" y1="799.5" x2="1087" y2="799.5" stroke="#000" stroke-width="1"/></g>
<g><text transform="matrix(0.9843 0 0 1.0735 173.92 835.00)">3465</text>
<text transform="matrix(0.9843 0 0 1.0735 326.92 835.00)">3470</text>
<text transform="matrix(0.9843 0 0 1.0735 480.92 835.00)">3475</text>
<text transform="matrix(0.9843 0 0 1.0735 633.92 835.00)">3480</text>
<text transform="matrix(0.9843 0 0 1.0735 787.92 835.00)">3485</text>
<text transform="matrix(0.9843 0 0 1.0735 940.92 835.00)">3490</text>
<text transform="matrix(0.9750 0 0 1.0588 134.30 515.00)">1</text>
<text transform="matrix(0.9750 0 0 1.0588 117.80 574.00)">0.8</text>
<text transform="matrix(0.9750 0 0 1.0588 117.80 632.00)">0.6</text>
<text transform="matrix(0.9750 0 0 1.0588 116.83 691.00)">0.4</text>
<text transform="matrix(0.9750 0 0 1.0588 117.80 749.00)">0.2</text>
<text transform="matrix(0.9750 0 0 1.0588 137.30 808.00)">0</text></g>
<text transform="matrix(0.9850 0 0 1.1176 591.73 482.00)">Bin 2</text>
<text transform="matrix(1.0043 0 0 1.0773 514.20 872.31)">Wavenumber [cm</text>
<text font-size="17" transform="matrix(1.0000 0 0 1.0333 702.00 860.70)">-1</text>
<text transform="matrix(0.7400 0 0 1.0773 720.00 872.31)">]</text>
<text transform="matrix(0 -1.0308 1.0773 0 103.51 747.63)">Transmittance [1]</text>
</svg></body></html>
